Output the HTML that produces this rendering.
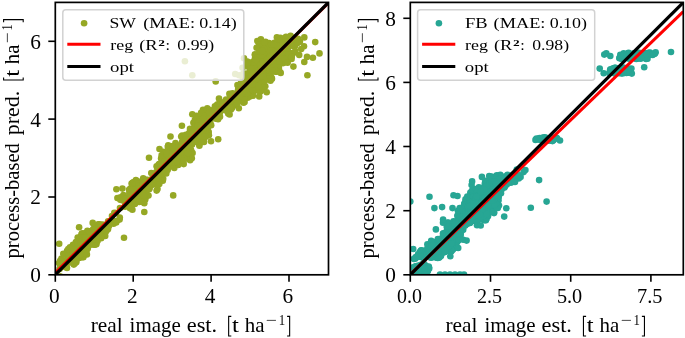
<!DOCTYPE html>
<html><head><meta charset="utf-8"><title>scatter</title>
<style>
html,body{margin:0;padding:0;background:#fff;}
body{width:685px;height:338px;overflow:hidden;}
svg{display:block;will-change:transform;}
text{font-family:"Liberation Serif",serif;fill:#000;}
</style></head><body>
<svg width="685" height="338" viewBox="0 0 685 338">
<rect width="685" height="338" fill="#fff"/>
<defs><clipPath id="c0"><rect x="55.3" y="2.4" width="273.2" height="272.4"/></clipPath></defs>
<g clip-path="url(#c0)">
<g fill="#96a825">
<circle cx="67.0" cy="268.0" r="3.3"/>
<circle cx="81.1" cy="244.2" r="3.3"/>
<circle cx="99.9" cy="230.8" r="3.3"/>
<circle cx="66.3" cy="260.0" r="3.3"/>
<circle cx="92.9" cy="242.7" r="3.3"/>
<circle cx="80.1" cy="248.8" r="3.3"/>
<circle cx="72.5" cy="260.9" r="3.3"/>
<circle cx="112.9" cy="222.4" r="3.3"/>
<circle cx="87.4" cy="230.9" r="3.3"/>
<circle cx="62.8" cy="266.2" r="3.3"/>
<circle cx="100.5" cy="226.6" r="3.3"/>
<circle cx="79.6" cy="241.8" r="3.3"/>
<circle cx="86.9" cy="254.5" r="3.3"/>
<circle cx="59.1" cy="263.0" r="3.3"/>
<circle cx="104.8" cy="226.2" r="3.3"/>
<circle cx="109.0" cy="225.9" r="3.3"/>
<circle cx="76.2" cy="256.6" r="3.3"/>
<circle cx="85.4" cy="233.0" r="3.3"/>
<circle cx="73.2" cy="263.3" r="3.3"/>
<circle cx="67.1" cy="250.8" r="3.3"/>
<circle cx="61.4" cy="264.7" r="3.3"/>
<circle cx="98.2" cy="224.2" r="3.3"/>
<circle cx="96.6" cy="228.3" r="3.3"/>
<circle cx="78.3" cy="251.8" r="3.3"/>
<circle cx="77.7" cy="237.6" r="3.3"/>
<circle cx="115.8" cy="221.6" r="3.3"/>
<circle cx="60.7" cy="260.8" r="3.3"/>
<circle cx="106.1" cy="230.3" r="3.3"/>
<circle cx="108.0" cy="229.3" r="3.3"/>
<circle cx="89.3" cy="231.4" r="3.3"/>
<circle cx="72.8" cy="250.6" r="3.3"/>
<circle cx="80.3" cy="257.0" r="3.3"/>
<circle cx="76.1" cy="260.7" r="3.3"/>
<circle cx="84.0" cy="246.6" r="3.3"/>
<circle cx="67.4" cy="260.7" r="3.3"/>
<circle cx="76.6" cy="251.9" r="3.3"/>
<circle cx="79.2" cy="257.9" r="3.3"/>
<circle cx="64.4" cy="265.1" r="3.3"/>
<circle cx="97.1" cy="241.0" r="3.3"/>
<circle cx="84.0" cy="245.2" r="3.3"/>
<circle cx="119.8" cy="217.6" r="3.3"/>
<circle cx="70.8" cy="255.8" r="3.3"/>
<circle cx="92.1" cy="231.5" r="3.3"/>
<circle cx="73.8" cy="264.6" r="3.3"/>
<circle cx="83.4" cy="257.2" r="3.3"/>
<circle cx="119.6" cy="219.6" r="3.3"/>
<circle cx="82.2" cy="257.3" r="3.3"/>
<circle cx="105.2" cy="235.9" r="3.3"/>
<circle cx="100.6" cy="236.4" r="3.3"/>
<circle cx="103.6" cy="233.6" r="3.3"/>
<circle cx="88.7" cy="234.0" r="3.3"/>
<circle cx="68.3" cy="249.0" r="3.3"/>
<circle cx="94.8" cy="244.7" r="3.3"/>
<circle cx="88.0" cy="245.0" r="3.3"/>
<circle cx="82.9" cy="237.9" r="3.3"/>
<circle cx="60.2" cy="260.7" r="3.3"/>
<circle cx="85.4" cy="235.8" r="3.3"/>
<circle cx="99.6" cy="224.3" r="3.3"/>
<circle cx="95.8" cy="228.0" r="3.3"/>
<circle cx="81.5" cy="234.3" r="3.3"/>
<circle cx="82.1" cy="233.2" r="3.3"/>
<circle cx="80.2" cy="252.5" r="3.3"/>
<circle cx="116.2" cy="222.4" r="3.3"/>
<circle cx="83.8" cy="254.3" r="3.3"/>
<circle cx="85.5" cy="244.4" r="3.3"/>
<circle cx="73.4" cy="256.3" r="3.3"/>
<circle cx="101.2" cy="238.2" r="3.3"/>
<circle cx="76.3" cy="262.3" r="3.3"/>
<circle cx="77.1" cy="248.5" r="3.3"/>
<circle cx="74.8" cy="253.8" r="3.3"/>
<circle cx="81.6" cy="255.9" r="3.3"/>
<circle cx="82.1" cy="234.6" r="3.3"/>
<circle cx="94.3" cy="242.6" r="3.3"/>
<circle cx="113.6" cy="223.8" r="3.3"/>
<circle cx="67.2" cy="262.6" r="3.3"/>
<circle cx="78.2" cy="251.7" r="3.3"/>
<circle cx="96.4" cy="244.3" r="3.3"/>
<circle cx="78.3" cy="243.8" r="3.3"/>
<circle cx="87.0" cy="242.2" r="3.3"/>
<circle cx="98.1" cy="228.1" r="3.3"/>
<circle cx="74.4" cy="261.8" r="3.3"/>
<circle cx="97.5" cy="241.0" r="3.3"/>
<circle cx="82.0" cy="245.6" r="3.3"/>
<circle cx="78.2" cy="247.9" r="3.3"/>
<circle cx="73.0" cy="244.7" r="3.3"/>
<circle cx="66.5" cy="266.2" r="3.3"/>
<circle cx="78.0" cy="250.7" r="3.3"/>
<circle cx="101.4" cy="232.7" r="3.3"/>
<circle cx="88.2" cy="241.8" r="3.3"/>
<circle cx="97.1" cy="230.6" r="3.3"/>
<circle cx="60.4" cy="265.8" r="3.3"/>
<circle cx="77.5" cy="243.6" r="3.3"/>
<circle cx="74.4" cy="249.1" r="3.3"/>
<circle cx="61.5" cy="258.5" r="3.3"/>
<circle cx="70.4" cy="260.1" r="3.3"/>
<circle cx="93.4" cy="240.3" r="3.3"/>
<circle cx="102.7" cy="224.6" r="3.3"/>
<circle cx="85.8" cy="249.7" r="3.3"/>
<circle cx="98.9" cy="235.8" r="3.3"/>
<circle cx="103.3" cy="226.6" r="3.3"/>
<circle cx="85.4" cy="235.8" r="3.3"/>
<circle cx="73.8" cy="254.2" r="3.3"/>
<circle cx="93.8" cy="244.5" r="3.3"/>
<circle cx="115.1" cy="221.5" r="3.3"/>
<circle cx="70.0" cy="247.3" r="3.3"/>
<circle cx="105.6" cy="231.5" r="3.3"/>
<circle cx="74.2" cy="255.1" r="3.3"/>
<circle cx="92.2" cy="234.9" r="3.3"/>
<circle cx="79.8" cy="255.7" r="3.3"/>
<circle cx="88.3" cy="238.3" r="3.3"/>
<circle cx="75.0" cy="254.8" r="3.3"/>
<circle cx="80.8" cy="256.7" r="3.3"/>
<circle cx="102.7" cy="227.2" r="3.3"/>
<circle cx="86.4" cy="251.2" r="3.3"/>
<circle cx="74.8" cy="263.1" r="3.3"/>
<circle cx="74.6" cy="263.4" r="3.3"/>
<circle cx="79.9" cy="237.6" r="3.3"/>
<circle cx="96.2" cy="237.3" r="3.3"/>
<circle cx="96.6" cy="239.9" r="3.3"/>
<circle cx="76.8" cy="258.9" r="3.3"/>
<circle cx="65.3" cy="267.0" r="3.3"/>
<circle cx="78.8" cy="248.3" r="3.3"/>
<circle cx="106.3" cy="231.1" r="3.3"/>
<circle cx="104.9" cy="228.4" r="3.3"/>
<circle cx="75.9" cy="242.0" r="3.3"/>
<circle cx="61.1" cy="260.7" r="3.3"/>
<circle cx="60.8" cy="265.3" r="3.3"/>
<circle cx="75.2" cy="246.2" r="3.3"/>
<circle cx="72.3" cy="252.9" r="3.3"/>
<circle cx="94.4" cy="244.4" r="3.3"/>
<circle cx="79.0" cy="251.7" r="3.3"/>
<circle cx="86.1" cy="240.8" r="3.3"/>
<circle cx="59.6" cy="269.1" r="3.3"/>
<circle cx="72.2" cy="249.9" r="3.3"/>
<circle cx="71.7" cy="249.1" r="3.3"/>
<circle cx="87.8" cy="248.5" r="3.3"/>
<circle cx="96.3" cy="238.7" r="3.3"/>
<circle cx="63.3" cy="253.8" r="3.3"/>
<circle cx="85.4" cy="250.1" r="3.3"/>
<circle cx="81.4" cy="245.7" r="3.3"/>
<circle cx="88.3" cy="245.4" r="3.3"/>
<circle cx="83.6" cy="237.5" r="3.3"/>
<circle cx="90.4" cy="244.7" r="3.3"/>
<circle cx="67.7" cy="256.9" r="3.3"/>
<circle cx="93.4" cy="232.8" r="3.3"/>
<circle cx="76.5" cy="256.9" r="3.3"/>
<circle cx="75.9" cy="254.9" r="3.3"/>
<circle cx="78.9" cy="248.0" r="3.3"/>
<circle cx="71.1" cy="255.5" r="3.3"/>
<circle cx="76.0" cy="250.5" r="3.3"/>
<circle cx="93.7" cy="234.9" r="3.3"/>
<circle cx="74.5" cy="257.0" r="3.3"/>
<circle cx="76.5" cy="249.6" r="3.3"/>
<circle cx="101.1" cy="236.3" r="3.3"/>
<circle cx="86.2" cy="235.5" r="3.3"/>
<circle cx="82.1" cy="254.8" r="3.3"/>
<circle cx="92.2" cy="231.2" r="3.3"/>
<circle cx="94.3" cy="239.0" r="3.3"/>
<circle cx="75.2" cy="248.6" r="3.3"/>
<circle cx="98.7" cy="237.4" r="3.3"/>
<circle cx="90.9" cy="241.9" r="3.3"/>
<circle cx="90.4" cy="231.4" r="3.3"/>
<circle cx="93.5" cy="241.8" r="3.3"/>
<circle cx="97.0" cy="228.6" r="3.3"/>
<circle cx="78.6" cy="251.9" r="3.3"/>
<circle cx="90.9" cy="244.2" r="3.3"/>
<circle cx="81.2" cy="250.6" r="3.3"/>
<circle cx="78.1" cy="247.8" r="3.3"/>
<circle cx="85.3" cy="242.9" r="3.3"/>
<circle cx="63.2" cy="263.9" r="3.3"/>
<circle cx="79.7" cy="242.0" r="3.3"/>
<circle cx="86.0" cy="237.1" r="3.3"/>
<circle cx="72.5" cy="261.1" r="3.3"/>
<circle cx="95.3" cy="232.2" r="3.3"/>
<circle cx="76.2" cy="256.5" r="3.3"/>
<circle cx="92.4" cy="237.1" r="3.3"/>
<circle cx="101.5" cy="228.4" r="3.3"/>
<circle cx="79.2" cy="246.6" r="3.3"/>
<circle cx="85.1" cy="251.4" r="3.3"/>
<circle cx="94.2" cy="228.3" r="3.3"/>
<circle cx="82.2" cy="255.7" r="3.3"/>
<circle cx="75.2" cy="255.1" r="3.3"/>
<circle cx="99.0" cy="232.4" r="3.3"/>
<circle cx="100.9" cy="237.1" r="3.3"/>
<circle cx="95.5" cy="239.6" r="3.3"/>
<circle cx="91.8" cy="237.7" r="3.3"/>
<circle cx="84.9" cy="251.2" r="3.3"/>
<circle cx="97.9" cy="231.4" r="3.3"/>
<circle cx="73.5" cy="257.5" r="3.3"/>
<circle cx="84.5" cy="240.0" r="3.3"/>
<circle cx="68.0" cy="255.1" r="3.3"/>
<circle cx="93.3" cy="233.3" r="3.3"/>
<circle cx="86.8" cy="236.0" r="3.3"/>
<circle cx="94.0" cy="239.1" r="3.3"/>
<circle cx="85.9" cy="236.3" r="3.3"/>
<circle cx="80.5" cy="256.1" r="3.3"/>
<circle cx="75.9" cy="258.1" r="3.3"/>
<circle cx="79.2" cy="255.6" r="3.3"/>
<circle cx="73.8" cy="259.9" r="3.3"/>
<circle cx="100.4" cy="231.3" r="3.3"/>
<circle cx="84.5" cy="237.3" r="3.3"/>
<circle cx="62.7" cy="265.0" r="3.3"/>
<circle cx="86.2" cy="239.7" r="3.3"/>
<circle cx="84.5" cy="237.7" r="3.3"/>
<circle cx="82.5" cy="249.7" r="3.3"/>
<circle cx="63.4" cy="265.5" r="3.3"/>
<circle cx="81.9" cy="242.5" r="3.3"/>
<circle cx="80.0" cy="255.1" r="3.3"/>
<circle cx="97.0" cy="230.4" r="3.3"/>
<circle cx="99.3" cy="232.9" r="3.3"/>
<circle cx="90.2" cy="232.7" r="3.3"/>
<circle cx="102.7" cy="228.1" r="3.3"/>
<circle cx="72.5" cy="260.9" r="3.3"/>
<circle cx="80.8" cy="254.5" r="3.3"/>
<circle cx="77.9" cy="253.0" r="3.3"/>
<circle cx="62.5" cy="263.5" r="3.3"/>
<circle cx="81.6" cy="243.6" r="3.3"/>
<circle cx="93.3" cy="236.9" r="3.3"/>
<circle cx="93.1" cy="229.3" r="3.3"/>
<circle cx="68.9" cy="256.0" r="3.3"/>
<circle cx="87.5" cy="241.7" r="3.3"/>
<circle cx="92.4" cy="232.2" r="3.3"/>
<circle cx="89.0" cy="239.4" r="3.3"/>
<circle cx="80.0" cy="245.5" r="3.3"/>
<circle cx="99.9" cy="228.0" r="3.3"/>
<circle cx="100.2" cy="229.8" r="3.3"/>
<circle cx="73.8" cy="253.7" r="3.3"/>
<circle cx="96.5" cy="236.5" r="3.3"/>
<circle cx="68.8" cy="261.6" r="3.3"/>
<circle cx="81.3" cy="252.4" r="3.3"/>
<circle cx="70.0" cy="262.2" r="3.3"/>
<circle cx="82.6" cy="252.5" r="3.3"/>
<circle cx="92.0" cy="232.6" r="3.3"/>
<circle cx="70.1" cy="252.6" r="3.3"/>
<circle cx="75.4" cy="257.0" r="3.3"/>
<circle cx="98.0" cy="229.7" r="3.3"/>
<circle cx="89.9" cy="242.6" r="3.3"/>
<circle cx="96.0" cy="235.6" r="3.3"/>
<circle cx="77.7" cy="243.6" r="3.3"/>
<circle cx="80.4" cy="242.7" r="3.3"/>
<circle cx="87.4" cy="243.1" r="3.3"/>
<circle cx="83.1" cy="250.4" r="3.3"/>
<circle cx="68.3" cy="255.9" r="3.3"/>
<circle cx="73.6" cy="250.1" r="3.3"/>
<circle cx="85.5" cy="237.7" r="3.3"/>
<circle cx="86.6" cy="242.7" r="3.3"/>
<circle cx="63.5" cy="264.2" r="3.3"/>
<circle cx="84.3" cy="253.0" r="3.3"/>
<circle cx="87.4" cy="245.7" r="3.3"/>
<circle cx="80.3" cy="254.6" r="3.3"/>
<circle cx="60.2" cy="276.3" r="3.3"/>
<circle cx="114.3" cy="212.8" r="3.3"/>
<circle cx="92.7" cy="222.9" r="3.3"/>
<circle cx="247.2" cy="63.9" r="3.3"/>
<circle cx="204.3" cy="124.5" r="3.3"/>
<circle cx="136.1" cy="190.8" r="3.3"/>
<circle cx="267.5" cy="74.2" r="3.3"/>
<circle cx="253.8" cy="91.5" r="3.3"/>
<circle cx="131.6" cy="183.5" r="3.3"/>
<circle cx="249.9" cy="96.4" r="3.3"/>
<circle cx="260.4" cy="73.2" r="3.3"/>
<circle cx="137.0" cy="193.0" r="3.3"/>
<circle cx="256.1" cy="86.0" r="3.3"/>
<circle cx="267.0" cy="48.0" r="3.3"/>
<circle cx="285.6" cy="38.3" r="3.3"/>
<circle cx="250.3" cy="75.7" r="3.3"/>
<circle cx="282.2" cy="62.6" r="3.3"/>
<circle cx="204.0" cy="142.0" r="3.3"/>
<circle cx="280.1" cy="47.2" r="3.3"/>
<circle cx="256.4" cy="87.6" r="3.3"/>
<circle cx="263.2" cy="50.9" r="3.3"/>
<circle cx="259.9" cy="52.6" r="3.3"/>
<circle cx="203.4" cy="135.6" r="3.3"/>
<circle cx="190.2" cy="155.7" r="3.3"/>
<circle cx="199.4" cy="145.8" r="3.3"/>
<circle cx="243.2" cy="79.9" r="3.3"/>
<circle cx="285.0" cy="39.4" r="3.3"/>
<circle cx="163.8" cy="156.5" r="3.3"/>
<circle cx="270.9" cy="56.0" r="3.3"/>
<circle cx="207.1" cy="113.9" r="3.3"/>
<circle cx="131.9" cy="205.1" r="3.3"/>
<circle cx="253.5" cy="76.1" r="3.3"/>
<circle cx="186.4" cy="150.1" r="3.3"/>
<circle cx="178.3" cy="161.0" r="3.3"/>
<circle cx="193.4" cy="122.8" r="3.3"/>
<circle cx="248.3" cy="91.6" r="3.3"/>
<circle cx="203.1" cy="130.5" r="3.3"/>
<circle cx="224.0" cy="110.0" r="3.3"/>
<circle cx="150.0" cy="181.4" r="3.3"/>
<circle cx="204.3" cy="116.3" r="3.3"/>
<circle cx="147.1" cy="179.7" r="3.3"/>
<circle cx="131.7" cy="194.5" r="3.3"/>
<circle cx="265.7" cy="71.0" r="3.3"/>
<circle cx="260.6" cy="91.2" r="3.3"/>
<circle cx="202.4" cy="117.2" r="3.3"/>
<circle cx="247.1" cy="93.8" r="3.3"/>
<circle cx="259.7" cy="87.5" r="3.3"/>
<circle cx="198.8" cy="134.9" r="3.3"/>
<circle cx="231.0" cy="109.4" r="3.3"/>
<circle cx="246.6" cy="82.8" r="3.3"/>
<circle cx="174.3" cy="167.9" r="3.3"/>
<circle cx="292.0" cy="53.3" r="3.3"/>
<circle cx="260.9" cy="39.4" r="3.3"/>
<circle cx="202.1" cy="112.9" r="3.3"/>
<circle cx="239.1" cy="94.2" r="3.3"/>
<circle cx="160.1" cy="173.9" r="3.3"/>
<circle cx="291.7" cy="56.2" r="3.3"/>
<circle cx="161.1" cy="158.5" r="3.3"/>
<circle cx="196.0" cy="132.8" r="3.3"/>
<circle cx="264.7" cy="70.0" r="3.3"/>
<circle cx="244.9" cy="98.4" r="3.3"/>
<circle cx="177.4" cy="162.3" r="3.3"/>
<circle cx="265.9" cy="69.4" r="3.3"/>
<circle cx="123.4" cy="195.1" r="3.3"/>
<circle cx="207.8" cy="119.0" r="3.3"/>
<circle cx="277.5" cy="50.7" r="3.3"/>
<circle cx="167.6" cy="169.9" r="3.3"/>
<circle cx="232.3" cy="99.8" r="3.3"/>
<circle cx="185.6" cy="140.4" r="3.3"/>
<circle cx="158.0" cy="184.1" r="3.3"/>
<circle cx="140.0" cy="182.5" r="3.3"/>
<circle cx="294.5" cy="46.5" r="3.3"/>
<circle cx="242.8" cy="78.0" r="3.3"/>
<circle cx="264.2" cy="47.7" r="3.3"/>
<circle cx="142.7" cy="190.5" r="3.3"/>
<circle cx="162.2" cy="178.6" r="3.3"/>
<circle cx="164.4" cy="159.5" r="3.3"/>
<circle cx="245.2" cy="85.4" r="3.3"/>
<circle cx="277.4" cy="44.8" r="3.3"/>
<circle cx="295.4" cy="44.0" r="3.3"/>
<circle cx="143.5" cy="181.1" r="3.3"/>
<circle cx="273.5" cy="55.1" r="3.3"/>
<circle cx="204.4" cy="124.4" r="3.3"/>
<circle cx="254.7" cy="79.6" r="3.3"/>
<circle cx="188.0" cy="153.8" r="3.3"/>
<circle cx="288.4" cy="45.3" r="3.3"/>
<circle cx="199.3" cy="144.6" r="3.3"/>
<circle cx="259.7" cy="82.9" r="3.3"/>
<circle cx="205.7" cy="132.9" r="3.3"/>
<circle cx="286.3" cy="45.0" r="3.3"/>
<circle cx="180.4" cy="159.5" r="3.3"/>
<circle cx="210.3" cy="122.9" r="3.3"/>
<circle cx="127.9" cy="202.7" r="3.3"/>
<circle cx="270.3" cy="58.8" r="3.3"/>
<circle cx="259.2" cy="50.6" r="3.3"/>
<circle cx="200.8" cy="142.1" r="3.3"/>
<circle cx="249.3" cy="89.6" r="3.3"/>
<circle cx="177.1" cy="150.1" r="3.3"/>
<circle cx="194.9" cy="119.8" r="3.3"/>
<circle cx="264.6" cy="53.5" r="3.3"/>
<circle cx="228.2" cy="113.5" r="3.3"/>
<circle cx="208.7" cy="132.0" r="3.3"/>
<circle cx="162.9" cy="169.3" r="3.3"/>
<circle cx="228.6" cy="111.6" r="3.3"/>
<circle cx="283.4" cy="63.1" r="3.3"/>
<circle cx="224.3" cy="104.4" r="3.3"/>
<circle cx="208.0" cy="133.3" r="3.3"/>
<circle cx="289.3" cy="40.6" r="3.3"/>
<circle cx="227.6" cy="103.4" r="3.3"/>
<circle cx="279.6" cy="39.5" r="3.3"/>
<circle cx="285.7" cy="37.9" r="3.3"/>
<circle cx="285.3" cy="57.0" r="3.3"/>
<circle cx="294.9" cy="38.5" r="3.3"/>
<circle cx="298.1" cy="38.7" r="3.3"/>
<circle cx="133.3" cy="196.3" r="3.3"/>
<circle cx="203.0" cy="109.8" r="3.3"/>
<circle cx="260.8" cy="67.3" r="3.3"/>
<circle cx="131.6" cy="195.1" r="3.3"/>
<circle cx="189.0" cy="133.4" r="3.3"/>
<circle cx="260.0" cy="67.5" r="3.3"/>
<circle cx="259.2" cy="91.0" r="3.3"/>
<circle cx="228.5" cy="101.8" r="3.3"/>
<circle cx="131.8" cy="194.2" r="3.3"/>
<circle cx="168.2" cy="145.2" r="3.3"/>
<circle cx="161.1" cy="171.7" r="3.3"/>
<circle cx="171.5" cy="161.4" r="3.3"/>
<circle cx="238.2" cy="86.6" r="3.3"/>
<circle cx="125.1" cy="206.8" r="3.3"/>
<circle cx="243.8" cy="79.0" r="3.3"/>
<circle cx="275.8" cy="51.9" r="3.3"/>
<circle cx="194.4" cy="127.4" r="3.3"/>
<circle cx="143.2" cy="178.4" r="3.3"/>
<circle cx="241.1" cy="93.6" r="3.3"/>
<circle cx="236.4" cy="105.2" r="3.3"/>
<circle cx="202.3" cy="131.6" r="3.3"/>
<circle cx="193.3" cy="132.3" r="3.3"/>
<circle cx="279.0" cy="69.6" r="3.3"/>
<circle cx="191.0" cy="157.0" r="3.3"/>
<circle cx="250.7" cy="79.2" r="3.3"/>
<circle cx="224.0" cy="103.9" r="3.3"/>
<circle cx="195.8" cy="131.2" r="3.3"/>
<circle cx="291.4" cy="53.5" r="3.3"/>
<circle cx="186.0" cy="152.1" r="3.3"/>
<circle cx="125.1" cy="205.6" r="3.3"/>
<circle cx="224.4" cy="106.2" r="3.3"/>
<circle cx="287.6" cy="56.4" r="3.3"/>
<circle cx="162.8" cy="180.7" r="3.3"/>
<circle cx="208.5" cy="123.8" r="3.3"/>
<circle cx="185.6" cy="149.2" r="3.3"/>
<circle cx="280.4" cy="37.8" r="3.3"/>
<circle cx="135.6" cy="195.8" r="3.3"/>
<circle cx="155.6" cy="175.1" r="3.3"/>
<circle cx="235.5" cy="93.7" r="3.3"/>
<circle cx="152.3" cy="178.5" r="3.3"/>
<circle cx="287.5" cy="50.6" r="3.3"/>
<circle cx="190.1" cy="160.3" r="3.3"/>
<circle cx="255.0" cy="54.4" r="3.3"/>
<circle cx="238.8" cy="108.3" r="3.3"/>
<circle cx="269.7" cy="68.3" r="3.3"/>
<circle cx="269.7" cy="63.0" r="3.3"/>
<circle cx="203.3" cy="135.1" r="3.3"/>
<circle cx="205.3" cy="110.3" r="3.3"/>
<circle cx="158.1" cy="175.9" r="3.3"/>
<circle cx="292.9" cy="53.4" r="3.3"/>
<circle cx="168.9" cy="155.8" r="3.3"/>
<circle cx="259.1" cy="68.7" r="3.3"/>
<circle cx="249.7" cy="85.8" r="3.3"/>
<circle cx="191.8" cy="158.2" r="3.3"/>
<circle cx="229.6" cy="114.5" r="3.3"/>
<circle cx="205.6" cy="127.4" r="3.3"/>
<circle cx="195.3" cy="133.8" r="3.3"/>
<circle cx="166.9" cy="167.3" r="3.3"/>
<circle cx="269.3" cy="48.5" r="3.3"/>
<circle cx="286.0" cy="50.1" r="3.3"/>
<circle cx="135.9" cy="180.0" r="3.3"/>
<circle cx="287.5" cy="56.9" r="3.3"/>
<circle cx="167.8" cy="146.8" r="3.3"/>
<circle cx="248.8" cy="80.8" r="3.3"/>
<circle cx="219.5" cy="105.9" r="3.3"/>
<circle cx="232.8" cy="105.8" r="3.3"/>
<circle cx="214.9" cy="106.4" r="3.3"/>
<circle cx="170.8" cy="165.4" r="3.3"/>
<circle cx="268.8" cy="78.0" r="3.3"/>
<circle cx="168.4" cy="166.3" r="3.3"/>
<circle cx="276.9" cy="37.4" r="3.3"/>
<circle cx="172.9" cy="150.1" r="3.3"/>
<circle cx="217.1" cy="116.7" r="3.3"/>
<circle cx="120.3" cy="199.8" r="3.3"/>
<circle cx="187.7" cy="141.8" r="3.3"/>
<circle cx="130.9" cy="199.0" r="3.3"/>
<circle cx="194.7" cy="122.8" r="3.3"/>
<circle cx="137.4" cy="183.8" r="3.3"/>
<circle cx="177.5" cy="161.4" r="3.3"/>
<circle cx="232.9" cy="104.5" r="3.3"/>
<circle cx="235.7" cy="96.6" r="3.3"/>
<circle cx="236.3" cy="103.1" r="3.3"/>
<circle cx="167.6" cy="169.1" r="3.3"/>
<circle cx="168.2" cy="161.0" r="3.3"/>
<circle cx="232.9" cy="96.3" r="3.3"/>
<circle cx="163.2" cy="178.8" r="3.3"/>
<circle cx="209.2" cy="117.7" r="3.3"/>
<circle cx="211.2" cy="125.2" r="3.3"/>
<circle cx="215.6" cy="113.7" r="3.3"/>
<circle cx="273.2" cy="64.7" r="3.3"/>
<circle cx="204.9" cy="110.4" r="3.3"/>
<circle cx="269.1" cy="43.0" r="3.3"/>
<circle cx="269.6" cy="58.1" r="3.3"/>
<circle cx="291.2" cy="57.1" r="3.3"/>
<circle cx="294.6" cy="45.2" r="3.3"/>
<circle cx="156.6" cy="166.3" r="3.3"/>
<circle cx="245.1" cy="79.2" r="3.3"/>
<circle cx="207.0" cy="128.3" r="3.3"/>
<circle cx="132.4" cy="209.8" r="3.3"/>
<circle cx="161.6" cy="155.4" r="3.3"/>
<circle cx="226.1" cy="99.5" r="3.3"/>
<circle cx="246.0" cy="89.9" r="3.3"/>
<circle cx="143.2" cy="195.1" r="3.3"/>
<circle cx="263.8" cy="79.6" r="3.3"/>
<circle cx="138.5" cy="189.0" r="3.3"/>
<circle cx="278.9" cy="55.9" r="3.3"/>
<circle cx="169.5" cy="149.0" r="3.3"/>
<circle cx="250.4" cy="62.6" r="3.3"/>
<circle cx="189.8" cy="158.9" r="3.3"/>
<circle cx="164.3" cy="152.4" r="3.3"/>
<circle cx="204.8" cy="126.8" r="3.3"/>
<circle cx="275.7" cy="71.7" r="3.3"/>
<circle cx="276.9" cy="55.1" r="3.3"/>
<circle cx="173.0" cy="164.8" r="3.3"/>
<circle cx="243.5" cy="102.7" r="3.3"/>
<circle cx="268.7" cy="53.5" r="3.3"/>
<circle cx="195.7" cy="123.3" r="3.3"/>
<circle cx="187.5" cy="147.3" r="3.3"/>
<circle cx="254.8" cy="74.1" r="3.3"/>
<circle cx="188.3" cy="141.4" r="3.3"/>
<circle cx="265.3" cy="54.5" r="3.3"/>
<circle cx="258.8" cy="85.2" r="3.3"/>
<circle cx="199.7" cy="124.7" r="3.3"/>
<circle cx="248.2" cy="94.1" r="3.3"/>
<circle cx="190.5" cy="157.9" r="3.3"/>
<circle cx="261.7" cy="87.7" r="3.3"/>
<circle cx="265.3" cy="86.2" r="3.3"/>
<circle cx="264.5" cy="78.2" r="3.3"/>
<circle cx="261.6" cy="46.4" r="3.3"/>
<circle cx="157.3" cy="167.6" r="3.3"/>
<circle cx="268.5" cy="70.3" r="3.3"/>
<circle cx="263.2" cy="49.8" r="3.3"/>
<circle cx="191.6" cy="137.8" r="3.3"/>
<circle cx="197.4" cy="125.4" r="3.3"/>
<circle cx="154.7" cy="177.4" r="3.3"/>
<circle cx="287.6" cy="61.9" r="3.3"/>
<circle cx="241.5" cy="101.0" r="3.3"/>
<circle cx="199.6" cy="118.7" r="3.3"/>
<circle cx="185.5" cy="144.9" r="3.3"/>
<circle cx="207.9" cy="127.7" r="3.3"/>
<circle cx="207.2" cy="133.3" r="3.3"/>
<circle cx="289.1" cy="44.3" r="3.3"/>
<circle cx="253.1" cy="74.8" r="3.3"/>
<circle cx="241.6" cy="85.6" r="3.3"/>
<circle cx="255.6" cy="64.3" r="3.3"/>
<circle cx="272.3" cy="69.7" r="3.3"/>
<circle cx="131.4" cy="196.7" r="3.3"/>
<circle cx="194.8" cy="126.1" r="3.3"/>
<circle cx="174.7" cy="159.2" r="3.3"/>
<circle cx="247.3" cy="64.6" r="3.3"/>
<circle cx="291.3" cy="45.1" r="3.3"/>
<circle cx="139.9" cy="189.1" r="3.3"/>
<circle cx="148.5" cy="180.6" r="3.3"/>
<circle cx="209.9" cy="117.8" r="3.3"/>
<circle cx="207.3" cy="108.4" r="3.3"/>
<circle cx="253.0" cy="95.7" r="3.3"/>
<circle cx="240.7" cy="88.2" r="3.3"/>
<circle cx="191.2" cy="150.5" r="3.3"/>
<circle cx="166.2" cy="160.7" r="3.3"/>
<circle cx="265.3" cy="48.9" r="3.3"/>
<circle cx="156.8" cy="174.7" r="3.3"/>
<circle cx="265.5" cy="41.9" r="3.3"/>
<circle cx="182.2" cy="135.5" r="3.3"/>
<circle cx="146.3" cy="183.8" r="3.3"/>
<circle cx="183.7" cy="149.3" r="3.3"/>
<circle cx="184.9" cy="144.2" r="3.3"/>
<circle cx="133.0" cy="187.4" r="3.3"/>
<circle cx="283.5" cy="48.8" r="3.3"/>
<circle cx="259.9" cy="65.9" r="3.3"/>
<circle cx="198.6" cy="125.1" r="3.3"/>
<circle cx="158.6" cy="167.4" r="3.3"/>
<circle cx="183.7" cy="164.1" r="3.3"/>
<circle cx="285.8" cy="49.4" r="3.3"/>
<circle cx="211.7" cy="113.6" r="3.3"/>
<circle cx="176.4" cy="162.7" r="3.3"/>
<circle cx="288.5" cy="40.5" r="3.3"/>
<circle cx="232.5" cy="93.3" r="3.3"/>
<circle cx="180.5" cy="150.6" r="3.3"/>
<circle cx="188.6" cy="147.9" r="3.3"/>
<circle cx="226.2" cy="110.6" r="3.3"/>
<circle cx="227.3" cy="101.2" r="3.3"/>
<circle cx="184.0" cy="151.6" r="3.3"/>
<circle cx="134.3" cy="197.7" r="3.3"/>
<circle cx="238.1" cy="89.8" r="3.3"/>
<circle cx="294.8" cy="45.8" r="3.3"/>
<circle cx="253.2" cy="62.1" r="3.3"/>
<circle cx="156.9" cy="183.8" r="3.3"/>
<circle cx="211.7" cy="117.1" r="3.3"/>
<circle cx="188.9" cy="134.9" r="3.3"/>
<circle cx="136.8" cy="187.1" r="3.3"/>
<circle cx="257.3" cy="58.7" r="3.3"/>
<circle cx="171.5" cy="151.3" r="3.3"/>
<circle cx="143.1" cy="201.0" r="3.3"/>
<circle cx="137.6" cy="181.4" r="3.3"/>
<circle cx="171.5" cy="164.4" r="3.3"/>
<circle cx="229.9" cy="98.6" r="3.3"/>
<circle cx="217.2" cy="116.0" r="3.3"/>
<circle cx="261.9" cy="55.5" r="3.3"/>
<circle cx="162.2" cy="169.8" r="3.3"/>
<circle cx="179.4" cy="159.3" r="3.3"/>
<circle cx="167.6" cy="152.9" r="3.3"/>
<circle cx="285.8" cy="50.7" r="3.3"/>
<circle cx="186.6" cy="137.9" r="3.3"/>
<circle cx="242.5" cy="88.2" r="3.3"/>
<circle cx="145.4" cy="182.2" r="3.3"/>
<circle cx="290.6" cy="35.8" r="3.3"/>
<circle cx="284.0" cy="44.2" r="3.3"/>
<circle cx="209.1" cy="118.0" r="3.3"/>
<circle cx="192.0" cy="141.0" r="3.3"/>
<circle cx="275.6" cy="66.0" r="3.3"/>
<circle cx="219.6" cy="116.1" r="3.3"/>
<circle cx="259.6" cy="41.1" r="3.3"/>
<circle cx="231.6" cy="101.6" r="3.3"/>
<circle cx="145.7" cy="189.1" r="3.3"/>
<circle cx="180.8" cy="157.2" r="3.3"/>
<circle cx="231.0" cy="95.9" r="3.3"/>
<circle cx="263.4" cy="68.7" r="3.3"/>
<circle cx="153.8" cy="183.9" r="3.3"/>
<circle cx="192.6" cy="153.0" r="3.3"/>
<circle cx="159.8" cy="178.6" r="3.3"/>
<circle cx="262.5" cy="57.9" r="3.3"/>
<circle cx="235.1" cy="98.5" r="3.3"/>
<circle cx="191.0" cy="153.0" r="3.3"/>
<circle cx="192.5" cy="142.9" r="3.3"/>
<circle cx="286.0" cy="36.9" r="3.3"/>
<circle cx="223.1" cy="108.4" r="3.3"/>
<circle cx="279.2" cy="50.4" r="3.3"/>
<circle cx="257.3" cy="41.0" r="3.3"/>
<circle cx="135.0" cy="183.1" r="3.3"/>
<circle cx="297.4" cy="41.3" r="3.3"/>
<circle cx="168.1" cy="162.4" r="3.3"/>
<circle cx="262.2" cy="79.1" r="3.3"/>
<circle cx="197.4" cy="120.4" r="3.3"/>
<circle cx="172.7" cy="146.1" r="3.3"/>
<circle cx="259.0" cy="72.0" r="3.3"/>
<circle cx="278.7" cy="40.8" r="3.3"/>
<circle cx="271.3" cy="69.2" r="3.3"/>
<circle cx="258.5" cy="89.6" r="3.3"/>
<circle cx="210.0" cy="110.1" r="3.3"/>
<circle cx="163.4" cy="151.7" r="3.3"/>
<circle cx="133.0" cy="182.9" r="3.3"/>
<circle cx="160.5" cy="170.7" r="3.3"/>
<circle cx="292.6" cy="43.5" r="3.3"/>
<circle cx="166.3" cy="173.5" r="3.3"/>
<circle cx="191.0" cy="140.6" r="3.3"/>
<circle cx="263.2" cy="82.4" r="3.3"/>
<circle cx="258.4" cy="83.8" r="3.3"/>
<circle cx="192.5" cy="136.9" r="3.3"/>
<circle cx="181.1" cy="159.8" r="3.3"/>
<circle cx="176.8" cy="157.3" r="3.3"/>
<circle cx="202.7" cy="125.3" r="3.3"/>
<circle cx="181.0" cy="146.0" r="3.3"/>
<circle cx="266.5" cy="64.2" r="3.3"/>
<circle cx="204.6" cy="137.9" r="3.3"/>
<circle cx="259.1" cy="65.1" r="3.3"/>
<circle cx="248.0" cy="66.4" r="3.3"/>
<circle cx="133.4" cy="198.0" r="3.3"/>
<circle cx="140.6" cy="196.8" r="3.3"/>
<circle cx="180.2" cy="151.4" r="3.3"/>
<circle cx="141.4" cy="196.6" r="3.3"/>
<circle cx="131.1" cy="189.7" r="3.3"/>
<circle cx="140.7" cy="182.8" r="3.3"/>
<circle cx="272.0" cy="78.8" r="3.3"/>
<circle cx="146.7" cy="180.0" r="3.3"/>
<circle cx="124.1" cy="200.7" r="3.3"/>
<circle cx="257.9" cy="65.3" r="3.3"/>
<circle cx="205.8" cy="112.1" r="3.3"/>
<circle cx="208.9" cy="135.2" r="3.3"/>
<circle cx="272.0" cy="67.4" r="3.3"/>
<circle cx="150.2" cy="181.7" r="3.3"/>
<circle cx="236.9" cy="102.2" r="3.3"/>
<circle cx="154.5" cy="174.7" r="3.3"/>
<circle cx="223.2" cy="106.1" r="3.3"/>
<circle cx="270.5" cy="80.7" r="3.3"/>
<circle cx="241.7" cy="94.3" r="3.3"/>
<circle cx="131.5" cy="194.1" r="3.3"/>
<circle cx="129.2" cy="200.8" r="3.3"/>
<circle cx="194.6" cy="130.8" r="3.3"/>
<circle cx="207.7" cy="116.3" r="3.3"/>
<circle cx="269.7" cy="64.8" r="3.3"/>
<circle cx="202.4" cy="139.2" r="3.3"/>
<circle cx="200.7" cy="135.4" r="3.3"/>
<circle cx="206.5" cy="135.9" r="3.3"/>
<circle cx="145.3" cy="199.6" r="3.3"/>
<circle cx="196.5" cy="115.9" r="3.3"/>
<circle cx="247.3" cy="61.6" r="3.3"/>
<circle cx="247.2" cy="81.5" r="3.3"/>
<circle cx="149.6" cy="186.6" r="3.3"/>
<circle cx="142.6" cy="184.8" r="3.3"/>
<circle cx="167.2" cy="163.8" r="3.3"/>
<circle cx="290.8" cy="43.1" r="3.3"/>
<circle cx="175.7" cy="155.5" r="3.3"/>
<circle cx="148.5" cy="195.6" r="3.3"/>
<circle cx="157.9" cy="170.1" r="3.3"/>
<circle cx="200.5" cy="119.8" r="3.3"/>
<circle cx="170.4" cy="160.6" r="3.3"/>
<circle cx="191.6" cy="135.0" r="3.3"/>
<circle cx="252.8" cy="81.9" r="3.3"/>
<circle cx="268.7" cy="74.5" r="3.3"/>
<circle cx="192.0" cy="140.0" r="3.3"/>
<circle cx="132.9" cy="182.5" r="3.3"/>
<circle cx="199.1" cy="138.7" r="3.3"/>
<circle cx="130.0" cy="208.3" r="3.3"/>
<circle cx="269.4" cy="78.1" r="3.3"/>
<circle cx="299.9" cy="41.8" r="3.3"/>
<circle cx="247.7" cy="97.7" r="3.3"/>
<circle cx="237.5" cy="85.0" r="3.3"/>
<circle cx="244.6" cy="102.0" r="3.3"/>
<circle cx="193.1" cy="132.9" r="3.3"/>
<circle cx="291.3" cy="54.8" r="3.3"/>
<circle cx="132.3" cy="202.8" r="3.3"/>
<circle cx="263.4" cy="47.0" r="3.3"/>
<circle cx="247.5" cy="63.2" r="3.3"/>
<circle cx="211.6" cy="112.5" r="3.3"/>
<circle cx="192.1" cy="144.5" r="3.3"/>
<circle cx="197.8" cy="139.4" r="3.3"/>
<circle cx="291.6" cy="59.0" r="3.3"/>
<circle cx="238.8" cy="98.5" r="3.3"/>
<circle cx="241.1" cy="83.1" r="3.3"/>
<circle cx="261.0" cy="59.6" r="3.3"/>
<circle cx="220.0" cy="116.8" r="3.3"/>
<circle cx="130.4" cy="188.5" r="3.3"/>
<circle cx="139.6" cy="193.9" r="3.3"/>
<circle cx="175.5" cy="143.1" r="3.3"/>
<circle cx="174.6" cy="148.1" r="3.3"/>
<circle cx="133.0" cy="196.3" r="3.3"/>
<circle cx="243.2" cy="73.9" r="3.3"/>
<circle cx="220.2" cy="102.8" r="3.3"/>
<circle cx="242.7" cy="97.4" r="3.3"/>
<circle cx="141.7" cy="201.8" r="3.3"/>
<circle cx="188.5" cy="157.0" r="3.3"/>
<circle cx="260.5" cy="73.4" r="3.3"/>
<circle cx="276.4" cy="71.7" r="3.3"/>
<circle cx="201.1" cy="112.9" r="3.3"/>
<circle cx="267.5" cy="76.6" r="3.3"/>
<circle cx="166.2" cy="160.3" r="3.3"/>
<circle cx="122.1" cy="200.2" r="3.3"/>
<circle cx="269.1" cy="67.6" r="3.3"/>
<circle cx="256.8" cy="81.7" r="3.3"/>
<circle cx="156.1" cy="172.4" r="3.3"/>
<circle cx="202.7" cy="137.3" r="3.3"/>
<circle cx="262.6" cy="53.7" r="3.3"/>
<circle cx="278.7" cy="54.9" r="3.3"/>
<circle cx="251.2" cy="80.9" r="3.3"/>
<circle cx="159.4" cy="164.5" r="3.3"/>
<circle cx="288.7" cy="41.5" r="3.3"/>
<circle cx="256.6" cy="61.0" r="3.3"/>
<circle cx="215.9" cy="118.8" r="3.3"/>
<circle cx="203.8" cy="137.5" r="3.3"/>
<circle cx="177.0" cy="153.5" r="3.3"/>
<circle cx="271.0" cy="76.3" r="3.3"/>
<circle cx="217.2" cy="104.6" r="3.3"/>
<circle cx="254.7" cy="59.4" r="3.3"/>
<circle cx="258.3" cy="75.9" r="3.3"/>
<circle cx="241.3" cy="83.4" r="3.3"/>
<circle cx="284.6" cy="57.7" r="3.3"/>
<circle cx="173.9" cy="152.4" r="3.3"/>
<circle cx="144.8" cy="199.3" r="3.3"/>
<circle cx="253.5" cy="90.3" r="3.3"/>
<circle cx="260.8" cy="71.3" r="3.3"/>
<circle cx="259.2" cy="44.7" r="3.3"/>
<circle cx="269.1" cy="54.3" r="3.3"/>
<circle cx="159.3" cy="184.0" r="3.3"/>
<circle cx="233.2" cy="100.9" r="3.3"/>
<circle cx="143.4" cy="186.5" r="3.3"/>
<circle cx="255.1" cy="84.8" r="3.3"/>
<circle cx="120.5" cy="197.3" r="3.3"/>
<circle cx="178.7" cy="149.3" r="3.3"/>
<circle cx="268.2" cy="64.0" r="3.3"/>
<circle cx="279.2" cy="65.8" r="3.3"/>
<circle cx="129.5" cy="194.2" r="3.3"/>
<circle cx="198.8" cy="123.6" r="3.3"/>
<circle cx="246.4" cy="73.6" r="3.3"/>
<circle cx="255.9" cy="62.1" r="3.3"/>
<circle cx="273.7" cy="62.1" r="3.3"/>
<circle cx="295.1" cy="45.0" r="3.3"/>
<circle cx="182.3" cy="148.9" r="3.3"/>
<circle cx="159.8" cy="163.8" r="3.3"/>
<circle cx="285.7" cy="52.4" r="3.3"/>
<circle cx="218.1" cy="119.2" r="3.3"/>
<circle cx="197.5" cy="130.0" r="3.3"/>
<circle cx="259.0" cy="44.9" r="3.3"/>
<circle cx="292.2" cy="37.9" r="3.3"/>
<circle cx="215.6" cy="112.8" r="3.3"/>
<circle cx="255.0" cy="78.0" r="3.3"/>
<circle cx="226.3" cy="101.5" r="3.3"/>
<circle cx="158.8" cy="164.2" r="3.3"/>
<circle cx="242.6" cy="96.7" r="3.3"/>
<circle cx="160.3" cy="163.9" r="3.3"/>
<circle cx="271.7" cy="62.9" r="3.3"/>
<circle cx="186.6" cy="148.9" r="3.3"/>
<circle cx="135.5" cy="194.8" r="3.3"/>
<circle cx="280.1" cy="58.9" r="3.3"/>
<circle cx="259.6" cy="58.8" r="3.3"/>
<circle cx="254.9" cy="55.1" r="3.3"/>
<circle cx="190.0" cy="128.9" r="3.3"/>
<circle cx="173.8" cy="165.6" r="3.3"/>
<circle cx="242.4" cy="86.7" r="3.3"/>
<circle cx="181.2" cy="136.5" r="3.3"/>
<circle cx="207.5" cy="125.9" r="3.3"/>
<circle cx="217.5" cy="116.2" r="3.3"/>
<circle cx="296.9" cy="40.6" r="3.3"/>
<circle cx="257.4" cy="85.3" r="3.3"/>
<circle cx="137.5" cy="190.6" r="3.3"/>
<circle cx="256.2" cy="55.3" r="3.3"/>
<circle cx="264.5" cy="53.0" r="3.3"/>
<circle cx="239.3" cy="90.7" r="3.3"/>
<circle cx="165.2" cy="161.0" r="3.3"/>
<circle cx="219.7" cy="102.4" r="3.3"/>
<circle cx="144.3" cy="203.2" r="3.3"/>
<circle cx="141.6" cy="200.5" r="3.3"/>
<circle cx="293.1" cy="42.6" r="3.3"/>
<circle cx="133.4" cy="182.6" r="3.3"/>
<circle cx="250.8" cy="91.3" r="3.3"/>
<circle cx="274.4" cy="42.8" r="3.3"/>
<circle cx="288.7" cy="44.5" r="3.3"/>
<circle cx="243.9" cy="99.9" r="3.3"/>
<circle cx="240.5" cy="99.7" r="3.3"/>
<circle cx="267.0" cy="49.1" r="3.3"/>
<circle cx="188.6" cy="147.8" r="3.3"/>
<circle cx="185.9" cy="134.7" r="3.3"/>
<circle cx="209.7" cy="121.3" r="3.3"/>
<circle cx="194.9" cy="127.9" r="3.3"/>
<circle cx="169.4" cy="161.8" r="3.3"/>
<circle cx="223.3" cy="102.2" r="3.3"/>
<circle cx="260.3" cy="91.6" r="3.3"/>
<circle cx="262.2" cy="51.7" r="3.3"/>
<circle cx="129.1" cy="189.7" r="3.3"/>
<circle cx="242.0" cy="93.8" r="3.3"/>
<circle cx="149.1" cy="186.0" r="3.3"/>
<circle cx="258.4" cy="65.3" r="3.3"/>
<circle cx="149.0" cy="182.2" r="3.3"/>
<circle cx="271.6" cy="78.3" r="3.3"/>
<circle cx="139.3" cy="190.9" r="3.3"/>
<circle cx="258.8" cy="90.1" r="3.3"/>
<circle cx="251.1" cy="84.9" r="3.3"/>
<circle cx="294.5" cy="40.9" r="3.3"/>
<circle cx="178.8" cy="161.0" r="3.3"/>
<circle cx="181.1" cy="156.2" r="3.3"/>
<circle cx="179.8" cy="149.2" r="3.3"/>
<circle cx="256.6" cy="47.7" r="3.3"/>
<circle cx="149.4" cy="181.4" r="3.3"/>
<circle cx="263.4" cy="89.5" r="3.3"/>
<circle cx="144.7" cy="191.8" r="3.3"/>
<circle cx="289.5" cy="52.6" r="3.3"/>
<circle cx="257.3" cy="57.5" r="3.3"/>
<circle cx="260.0" cy="67.2" r="3.3"/>
<circle cx="178.2" cy="164.9" r="3.3"/>
<circle cx="202.4" cy="141.5" r="3.3"/>
<circle cx="281.7" cy="58.6" r="3.3"/>
<circle cx="161.2" cy="174.6" r="3.3"/>
<circle cx="256.8" cy="61.3" r="3.3"/>
<circle cx="143.2" cy="190.6" r="3.3"/>
<circle cx="267.1" cy="64.1" r="3.3"/>
<circle cx="124.9" cy="198.9" r="3.3"/>
<circle cx="247.8" cy="92.9" r="3.3"/>
<circle cx="268.4" cy="57.6" r="3.3"/>
<circle cx="182.2" cy="141.5" r="3.3"/>
<circle cx="271.4" cy="71.6" r="3.3"/>
<circle cx="262.5" cy="72.5" r="3.3"/>
<circle cx="133.5" cy="192.5" r="3.3"/>
<circle cx="129.4" cy="197.5" r="3.3"/>
<circle cx="138.8" cy="197.8" r="3.3"/>
<circle cx="156.4" cy="176.4" r="3.3"/>
<circle cx="277.1" cy="53.4" r="3.3"/>
<circle cx="248.1" cy="78.7" r="3.3"/>
<circle cx="182.6" cy="142.3" r="3.3"/>
<circle cx="233.9" cy="103.3" r="3.3"/>
<circle cx="238.0" cy="93.2" r="3.3"/>
<circle cx="274.5" cy="69.2" r="3.3"/>
<circle cx="173.6" cy="150.7" r="3.3"/>
<circle cx="133.9" cy="195.3" r="3.3"/>
<circle cx="224.5" cy="107.7" r="3.3"/>
<circle cx="131.7" cy="196.5" r="3.3"/>
<circle cx="265.0" cy="44.2" r="3.3"/>
<circle cx="277.7" cy="52.2" r="3.3"/>
<circle cx="253.9" cy="66.2" r="3.3"/>
<circle cx="271.8" cy="46.1" r="3.3"/>
<circle cx="262.7" cy="45.6" r="3.3"/>
<circle cx="172.9" cy="164.1" r="3.3"/>
<circle cx="250.3" cy="89.9" r="3.3"/>
<circle cx="274.4" cy="57.5" r="3.3"/>
<circle cx="178.9" cy="160.9" r="3.3"/>
<circle cx="199.4" cy="126.6" r="3.3"/>
<circle cx="283.7" cy="52.2" r="3.3"/>
<circle cx="287.8" cy="45.9" r="3.3"/>
<circle cx="202.2" cy="123.2" r="3.3"/>
<circle cx="264.6" cy="65.7" r="3.3"/>
<circle cx="212.3" cy="114.1" r="3.3"/>
<circle cx="253.1" cy="74.8" r="3.3"/>
<circle cx="262.4" cy="86.1" r="3.3"/>
<circle cx="287.8" cy="53.0" r="3.3"/>
<circle cx="139.3" cy="188.5" r="3.3"/>
<circle cx="168.9" cy="152.7" r="3.3"/>
<circle cx="290.2" cy="44.5" r="3.3"/>
<circle cx="271.4" cy="68.5" r="3.3"/>
<circle cx="280.6" cy="55.2" r="3.3"/>
<circle cx="241.9" cy="99.3" r="3.3"/>
<circle cx="163.4" cy="168.4" r="3.3"/>
<circle cx="149.5" cy="186.3" r="3.3"/>
<circle cx="212.5" cy="111.9" r="3.3"/>
<circle cx="247.4" cy="84.9" r="3.3"/>
<circle cx="242.2" cy="88.6" r="3.3"/>
<circle cx="262.7" cy="59.0" r="3.3"/>
<circle cx="236.0" cy="95.5" r="3.3"/>
<circle cx="262.3" cy="55.9" r="3.3"/>
<circle cx="180.2" cy="154.3" r="3.3"/>
<circle cx="248.8" cy="74.4" r="3.3"/>
<circle cx="200.6" cy="126.5" r="3.3"/>
<circle cx="256.9" cy="82.7" r="3.3"/>
<circle cx="258.7" cy="82.2" r="3.3"/>
<circle cx="264.2" cy="58.4" r="3.3"/>
<circle cx="247.5" cy="89.0" r="3.3"/>
<circle cx="272.7" cy="50.5" r="3.3"/>
<circle cx="205.0" cy="115.8" r="3.3"/>
<circle cx="286.1" cy="55.8" r="3.3"/>
<circle cx="284.9" cy="46.0" r="3.3"/>
<circle cx="186.4" cy="143.4" r="3.3"/>
<circle cx="172.8" cy="149.2" r="3.3"/>
<circle cx="231.9" cy="101.2" r="3.3"/>
<circle cx="269.0" cy="54.8" r="3.3"/>
<circle cx="250.6" cy="90.1" r="3.3"/>
<circle cx="276.7" cy="45.7" r="3.3"/>
<circle cx="127.9" cy="198.1" r="3.3"/>
<circle cx="155.7" cy="177.9" r="3.3"/>
<circle cx="233.5" cy="99.6" r="3.3"/>
<circle cx="203.1" cy="127.3" r="3.3"/>
<circle cx="284.6" cy="41.5" r="3.3"/>
<circle cx="215.2" cy="108.7" r="3.3"/>
<circle cx="234.0" cy="99.0" r="3.3"/>
<circle cx="218.0" cy="110.0" r="3.3"/>
<circle cx="160.7" cy="173.0" r="3.3"/>
<circle cx="176.2" cy="153.8" r="3.3"/>
<circle cx="238.7" cy="89.5" r="3.3"/>
<circle cx="174.0" cy="162.8" r="3.3"/>
<circle cx="177.5" cy="158.2" r="3.3"/>
<circle cx="203.3" cy="128.1" r="3.3"/>
<circle cx="262.6" cy="55.9" r="3.3"/>
<circle cx="268.7" cy="53.2" r="3.3"/>
<circle cx="145.4" cy="185.6" r="3.3"/>
<circle cx="285.5" cy="42.9" r="3.3"/>
<circle cx="174.9" cy="158.6" r="3.3"/>
<circle cx="275.9" cy="64.3" r="3.3"/>
<circle cx="146.5" cy="191.6" r="3.3"/>
<circle cx="220.0" cy="111.5" r="3.3"/>
<circle cx="167.0" cy="155.0" r="3.3"/>
<circle cx="205.4" cy="132.2" r="3.3"/>
<circle cx="149.5" cy="188.6" r="3.3"/>
<circle cx="169.8" cy="166.5" r="3.3"/>
<circle cx="254.9" cy="71.5" r="3.3"/>
<circle cx="140.8" cy="190.5" r="3.3"/>
<circle cx="220.3" cy="110.4" r="3.3"/>
<circle cx="128.2" cy="202.8" r="3.3"/>
<circle cx="170.2" cy="151.7" r="3.3"/>
<circle cx="247.6" cy="78.2" r="3.3"/>
<circle cx="265.0" cy="51.9" r="3.3"/>
<circle cx="255.6" cy="72.5" r="3.3"/>
<circle cx="141.5" cy="198.8" r="3.3"/>
<circle cx="138.2" cy="189.3" r="3.3"/>
<circle cx="136.6" cy="183.1" r="3.3"/>
<circle cx="268.1" cy="76.9" r="3.3"/>
<circle cx="266.4" cy="52.9" r="3.3"/>
<circle cx="172.8" cy="155.1" r="3.3"/>
<circle cx="152.7" cy="183.6" r="3.3"/>
<circle cx="283.4" cy="43.0" r="3.3"/>
<circle cx="195.2" cy="126.2" r="3.3"/>
<circle cx="244.0" cy="89.4" r="3.3"/>
<circle cx="186.0" cy="144.2" r="3.3"/>
<circle cx="259.3" cy="81.7" r="3.3"/>
<circle cx="178.2" cy="157.8" r="3.3"/>
<circle cx="279.3" cy="48.2" r="3.3"/>
<circle cx="263.9" cy="47.8" r="3.3"/>
<circle cx="238.8" cy="98.1" r="3.3"/>
<circle cx="197.6" cy="125.6" r="3.3"/>
<circle cx="243.6" cy="86.7" r="3.3"/>
<circle cx="250.5" cy="80.4" r="3.3"/>
<circle cx="254.0" cy="73.1" r="3.3"/>
<circle cx="172.2" cy="163.7" r="3.3"/>
<circle cx="184.5" cy="145.1" r="3.3"/>
<circle cx="169.8" cy="164.9" r="3.3"/>
<circle cx="243.8" cy="98.0" r="3.3"/>
<circle cx="176.7" cy="161.9" r="3.3"/>
<circle cx="164.4" cy="161.3" r="3.3"/>
<circle cx="204.8" cy="128.6" r="3.3"/>
<circle cx="179.3" cy="157.8" r="3.3"/>
<circle cx="134.7" cy="185.0" r="3.3"/>
<circle cx="172.5" cy="148.0" r="3.3"/>
<circle cx="257.1" cy="57.9" r="3.3"/>
<circle cx="259.2" cy="57.8" r="3.3"/>
<circle cx="166.2" cy="164.4" r="3.3"/>
<circle cx="222.6" cy="106.9" r="3.3"/>
<circle cx="139.1" cy="183.4" r="3.3"/>
<circle cx="186.5" cy="157.8" r="3.3"/>
<circle cx="173.8" cy="159.2" r="3.3"/>
<circle cx="193.4" cy="129.3" r="3.3"/>
<circle cx="263.1" cy="55.7" r="3.3"/>
<circle cx="173.0" cy="151.9" r="3.3"/>
<circle cx="288.6" cy="54.0" r="3.3"/>
<circle cx="201.6" cy="126.1" r="3.3"/>
<circle cx="279.3" cy="60.6" r="3.3"/>
<circle cx="217.3" cy="109.7" r="3.3"/>
<circle cx="268.3" cy="57.2" r="3.3"/>
<circle cx="138.5" cy="185.4" r="3.3"/>
<circle cx="269.6" cy="57.4" r="3.3"/>
<circle cx="247.4" cy="83.1" r="3.3"/>
<circle cx="157.2" cy="173.9" r="3.3"/>
<circle cx="269.6" cy="69.0" r="3.3"/>
<circle cx="145.2" cy="186.8" r="3.3"/>
<circle cx="170.2" cy="154.5" r="3.3"/>
<circle cx="255.0" cy="70.6" r="3.3"/>
<circle cx="202.0" cy="131.4" r="3.3"/>
<circle cx="130.6" cy="202.4" r="3.3"/>
<circle cx="265.5" cy="78.0" r="3.3"/>
<circle cx="219.4" cy="112.4" r="3.3"/>
<circle cx="287.4" cy="45.7" r="3.3"/>
<circle cx="125.7" cy="198.9" r="3.3"/>
<circle cx="280.5" cy="45.6" r="3.3"/>
<circle cx="142.5" cy="184.6" r="3.3"/>
<circle cx="205.5" cy="128.8" r="3.3"/>
<circle cx="130.2" cy="197.6" r="3.3"/>
<circle cx="186.4" cy="156.5" r="3.3"/>
<circle cx="160.9" cy="170.5" r="3.3"/>
<circle cx="197.2" cy="129.6" r="3.3"/>
<circle cx="143.3" cy="184.0" r="3.3"/>
<circle cx="190.0" cy="145.4" r="3.3"/>
<circle cx="256.1" cy="85.6" r="3.3"/>
<circle cx="283.0" cy="59.5" r="3.3"/>
<circle cx="243.9" cy="97.4" r="3.3"/>
<circle cx="218.1" cy="112.9" r="3.3"/>
<circle cx="165.1" cy="168.3" r="3.3"/>
<circle cx="209.5" cy="117.1" r="3.3"/>
<circle cx="228.6" cy="104.8" r="3.3"/>
<circle cx="265.9" cy="52.3" r="3.3"/>
<circle cx="199.8" cy="125.2" r="3.3"/>
<circle cx="164.6" cy="166.0" r="3.3"/>
<circle cx="232.4" cy="100.8" r="3.3"/>
<circle cx="283.1" cy="44.1" r="3.3"/>
<circle cx="234.3" cy="99.6" r="3.3"/>
<circle cx="250.4" cy="85.5" r="3.3"/>
<circle cx="254.3" cy="87.4" r="3.3"/>
<circle cx="274.0" cy="52.1" r="3.3"/>
<circle cx="268.3" cy="78.8" r="3.3"/>
<circle cx="267.1" cy="60.3" r="3.3"/>
<circle cx="249.1" cy="90.1" r="3.3"/>
<circle cx="204.1" cy="125.8" r="3.3"/>
<circle cx="197.5" cy="131.4" r="3.3"/>
<circle cx="183.5" cy="148.1" r="3.3"/>
<circle cx="195.4" cy="141.4" r="3.3"/>
<circle cx="239.4" cy="91.1" r="3.3"/>
<circle cx="274.1" cy="66.3" r="3.3"/>
<circle cx="170.6" cy="166.0" r="3.3"/>
<circle cx="140.7" cy="194.8" r="3.3"/>
<circle cx="194.2" cy="132.0" r="3.3"/>
<circle cx="138.7" cy="191.1" r="3.3"/>
<circle cx="201.1" cy="125.3" r="3.3"/>
<circle cx="140.3" cy="199.0" r="3.3"/>
<circle cx="161.8" cy="168.5" r="3.3"/>
<circle cx="268.4" cy="43.7" r="3.3"/>
<circle cx="263.5" cy="75.0" r="3.3"/>
<circle cx="189.3" cy="147.3" r="3.3"/>
<circle cx="266.9" cy="46.5" r="3.3"/>
<circle cx="185.1" cy="154.6" r="3.3"/>
<circle cx="261.0" cy="51.9" r="3.3"/>
<circle cx="129.4" cy="193.0" r="3.3"/>
<circle cx="258.9" cy="87.6" r="3.3"/>
<circle cx="287.5" cy="44.9" r="3.3"/>
<circle cx="171.7" cy="162.8" r="3.3"/>
<circle cx="188.9" cy="146.3" r="3.3"/>
<circle cx="128.7" cy="202.8" r="3.3"/>
<circle cx="170.6" cy="158.5" r="3.3"/>
<circle cx="283.5" cy="56.4" r="3.3"/>
<circle cx="231.9" cy="108.0" r="3.3"/>
<circle cx="145.3" cy="182.1" r="3.3"/>
<circle cx="280.0" cy="55.6" r="3.3"/>
<circle cx="162.4" cy="170.9" r="3.3"/>
<circle cx="188.6" cy="146.2" r="3.3"/>
<circle cx="280.7" cy="53.9" r="3.3"/>
<circle cx="251.9" cy="73.9" r="3.3"/>
<circle cx="183.5" cy="154.0" r="3.3"/>
<circle cx="278.7" cy="56.5" r="3.3"/>
<circle cx="166.7" cy="154.1" r="3.3"/>
<circle cx="274.1" cy="58.4" r="3.3"/>
<circle cx="255.2" cy="78.1" r="3.3"/>
<circle cx="273.6" cy="58.9" r="3.3"/>
<circle cx="169.3" cy="158.0" r="3.3"/>
<circle cx="186.8" cy="141.2" r="3.3"/>
<circle cx="252.9" cy="82.7" r="3.3"/>
<circle cx="254.3" cy="62.5" r="3.3"/>
<circle cx="242.1" cy="93.9" r="3.3"/>
<circle cx="236.0" cy="99.4" r="3.3"/>
<circle cx="191.1" cy="139.1" r="3.3"/>
<circle cx="244.9" cy="85.0" r="3.3"/>
<circle cx="186.0" cy="139.2" r="3.3"/>
<circle cx="245.6" cy="88.2" r="3.3"/>
<circle cx="190.4" cy="148.2" r="3.3"/>
<circle cx="180.3" cy="145.0" r="3.3"/>
<circle cx="196.0" cy="129.9" r="3.3"/>
<circle cx="184.0" cy="159.1" r="3.3"/>
<circle cx="182.0" cy="150.7" r="3.3"/>
<circle cx="138.5" cy="196.3" r="3.3"/>
<circle cx="269.4" cy="50.0" r="3.3"/>
<circle cx="256.5" cy="78.4" r="3.3"/>
<circle cx="245.4" cy="86.4" r="3.3"/>
<circle cx="260.3" cy="64.5" r="3.3"/>
<circle cx="140.3" cy="195.0" r="3.3"/>
<circle cx="247.6" cy="81.0" r="3.3"/>
<circle cx="220.4" cy="109.8" r="3.3"/>
<circle cx="149.1" cy="189.3" r="3.3"/>
<circle cx="167.1" cy="152.9" r="3.3"/>
<circle cx="262.5" cy="77.1" r="3.3"/>
<circle cx="204.3" cy="121.2" r="3.3"/>
<circle cx="178.7" cy="156.4" r="3.3"/>
<circle cx="184.6" cy="148.9" r="3.3"/>
<circle cx="151.7" cy="184.5" r="3.3"/>
<circle cx="193.9" cy="137.1" r="3.3"/>
<circle cx="198.0" cy="121.5" r="3.3"/>
<circle cx="252.6" cy="71.1" r="3.3"/>
<circle cx="287.3" cy="49.0" r="3.3"/>
<circle cx="251.4" cy="68.8" r="3.3"/>
<circle cx="203.7" cy="128.1" r="3.3"/>
<circle cx="143.8" cy="195.9" r="3.3"/>
<circle cx="141.4" cy="195.3" r="3.3"/>
<circle cx="217.0" cy="113.2" r="3.3"/>
<circle cx="182.1" cy="156.0" r="3.3"/>
<circle cx="258.4" cy="86.1" r="3.3"/>
<circle cx="260.3" cy="77.6" r="3.3"/>
<circle cx="264.7" cy="43.3" r="3.3"/>
<circle cx="143.5" cy="192.7" r="3.3"/>
<circle cx="272.5" cy="70.4" r="3.3"/>
<circle cx="290.0" cy="45.8" r="3.3"/>
<circle cx="167.8" cy="164.7" r="3.3"/>
<circle cx="283.8" cy="54.9" r="3.3"/>
<circle cx="266.9" cy="46.0" r="3.3"/>
<circle cx="191.6" cy="133.7" r="3.3"/>
<circle cx="236.7" cy="96.9" r="3.3"/>
<circle cx="147.7" cy="183.0" r="3.3"/>
<circle cx="171.9" cy="158.7" r="3.3"/>
<circle cx="231.7" cy="107.8" r="3.3"/>
<circle cx="274.6" cy="54.6" r="3.3"/>
<circle cx="264.3" cy="48.7" r="3.3"/>
<circle cx="284.6" cy="43.1" r="3.3"/>
<circle cx="133.2" cy="188.3" r="3.3"/>
<circle cx="218.7" cy="113.5" r="3.3"/>
<circle cx="189.4" cy="140.1" r="3.3"/>
<circle cx="191.5" cy="144.2" r="3.3"/>
<circle cx="142.6" cy="189.0" r="3.3"/>
<circle cx="136.5" cy="193.2" r="3.3"/>
<circle cx="169.6" cy="162.9" r="3.3"/>
<circle cx="178.6" cy="153.7" r="3.3"/>
<circle cx="258.3" cy="76.9" r="3.3"/>
<circle cx="230.0" cy="107.6" r="3.3"/>
<circle cx="198.3" cy="122.8" r="3.3"/>
<circle cx="246.8" cy="93.4" r="3.3"/>
<circle cx="168.7" cy="162.7" r="3.3"/>
<circle cx="220.2" cy="111.6" r="3.3"/>
<circle cx="277.1" cy="45.6" r="3.3"/>
<circle cx="270.2" cy="55.4" r="3.3"/>
<circle cx="176.0" cy="151.2" r="3.3"/>
<circle cx="171.8" cy="156.0" r="3.3"/>
<circle cx="244.9" cy="90.9" r="3.3"/>
<circle cx="142.6" cy="185.8" r="3.3"/>
<circle cx="134.9" cy="204.0" r="3.3"/>
<circle cx="262.5" cy="50.9" r="3.3"/>
<circle cx="212.7" cy="116.8" r="3.3"/>
<circle cx="263.1" cy="61.4" r="3.3"/>
<circle cx="263.7" cy="66.8" r="3.3"/>
<circle cx="188.6" cy="141.1" r="3.3"/>
<circle cx="201.5" cy="135.5" r="3.3"/>
<circle cx="288.9" cy="41.3" r="3.3"/>
<circle cx="142.2" cy="187.6" r="3.3"/>
<circle cx="209.2" cy="112.3" r="3.3"/>
<circle cx="227.2" cy="102.4" r="3.3"/>
<circle cx="264.5" cy="42.4" r="3.3"/>
<circle cx="169.4" cy="162.5" r="3.3"/>
<circle cx="201.0" cy="130.7" r="3.3"/>
<circle cx="143.2" cy="195.6" r="3.3"/>
<circle cx="203.2" cy="119.1" r="3.3"/>
<circle cx="194.3" cy="142.0" r="3.3"/>
<circle cx="266.4" cy="59.7" r="3.3"/>
<circle cx="249.9" cy="68.9" r="3.3"/>
<circle cx="191.7" cy="142.0" r="3.3"/>
<circle cx="240.3" cy="89.6" r="3.3"/>
<circle cx="214.6" cy="109.8" r="3.3"/>
<circle cx="261.0" cy="68.4" r="3.3"/>
<circle cx="187.1" cy="151.1" r="3.3"/>
<circle cx="184.4" cy="158.5" r="3.3"/>
<circle cx="285.3" cy="41.6" r="3.3"/>
<circle cx="282.5" cy="44.4" r="3.3"/>
<circle cx="279.4" cy="61.8" r="3.3"/>
<circle cx="220.2" cy="109.9" r="3.3"/>
<circle cx="159.4" cy="168.2" r="3.3"/>
<circle cx="256.0" cy="60.0" r="3.3"/>
<circle cx="237.3" cy="103.3" r="3.3"/>
<circle cx="185.6" cy="145.0" r="3.3"/>
<circle cx="176.5" cy="147.6" r="3.3"/>
<circle cx="145.8" cy="182.1" r="3.3"/>
<circle cx="199.1" cy="122.0" r="3.3"/>
<circle cx="137.1" cy="193.9" r="3.3"/>
<circle cx="271.9" cy="61.3" r="3.3"/>
<circle cx="197.9" cy="125.7" r="3.3"/>
<circle cx="137.6" cy="188.8" r="3.3"/>
<circle cx="201.2" cy="136.5" r="3.3"/>
<circle cx="252.5" cy="84.2" r="3.3"/>
<circle cx="133.3" cy="192.4" r="3.3"/>
<circle cx="132.9" cy="189.4" r="3.3"/>
<circle cx="158.2" cy="178.7" r="3.3"/>
<circle cx="288.2" cy="54.8" r="3.3"/>
<circle cx="263.4" cy="78.2" r="3.3"/>
<circle cx="183.6" cy="160.6" r="3.3"/>
<circle cx="181.2" cy="146.4" r="3.3"/>
<circle cx="188.0" cy="153.1" r="3.3"/>
<circle cx="151.7" cy="185.0" r="3.3"/>
<circle cx="130.6" cy="202.3" r="3.3"/>
<circle cx="194.1" cy="135.8" r="3.3"/>
<circle cx="138.0" cy="199.6" r="3.3"/>
<circle cx="172.7" cy="148.1" r="3.3"/>
<circle cx="186.0" cy="139.2" r="3.3"/>
<circle cx="204.9" cy="136.4" r="3.3"/>
<circle cx="271.2" cy="44.3" r="3.3"/>
<circle cx="180.7" cy="151.9" r="3.3"/>
<circle cx="264.8" cy="81.1" r="3.3"/>
<circle cx="273.9" cy="44.3" r="3.3"/>
<circle cx="262.9" cy="76.3" r="3.3"/>
<circle cx="172.7" cy="147.1" r="3.3"/>
<circle cx="269.9" cy="57.0" r="3.3"/>
<circle cx="139.2" cy="201.9" r="3.3"/>
<circle cx="176.9" cy="160.9" r="3.3"/>
<circle cx="284.4" cy="58.4" r="3.3"/>
<circle cx="160.8" cy="165.3" r="3.3"/>
<circle cx="117.4" cy="198.0" r="3.3"/>
<circle cx="122.4" cy="188.6" r="3.3"/>
<circle cx="157.5" cy="189.0" r="3.3"/>
<circle cx="151.3" cy="173.0" r="3.3"/>
<circle cx="156.6" cy="190.6" r="3.3"/>
<circle cx="280.7" cy="72.9" r="3.3"/>
<circle cx="266.7" cy="92.2" r="3.3"/>
<circle cx="159.5" cy="149.0" r="3.3"/>
<circle cx="244.0" cy="58.3" r="3.3"/>
<circle cx="219.0" cy="98.6" r="3.3"/>
<circle cx="259.2" cy="96.4" r="3.3"/>
<circle cx="304.0" cy="46.3" r="3.3"/>
<circle cx="108.1" cy="221.2" r="3.3"/>
<circle cx="116.4" cy="221.2" r="3.3"/>
<circle cx="112.0" cy="216.0" r="3.3"/>
<circle cx="120.0" cy="208.0" r="3.3"/>
<circle cx="116.0" cy="213.0" r="3.3"/>
<circle cx="59.2" cy="243.7" r="3.3"/>
<circle cx="79.1" cy="227.3" r="3.3"/>
<circle cx="124.0" cy="237.8" r="3.3"/>
<circle cx="116.4" cy="189.2" r="3.3"/>
<circle cx="149.0" cy="157.7" r="3.3"/>
<circle cx="173.2" cy="195.4" r="3.3"/>
<circle cx="144.3" cy="212.0" r="3.3"/>
<circle cx="184.9" cy="61.2" r="3.3"/>
<circle cx="192.3" cy="75.2" r="3.3"/>
<circle cx="215.7" cy="81.4" r="3.3"/>
<circle cx="229.4" cy="93.9" r="3.3"/>
<circle cx="235.2" cy="74.0" r="3.3"/>
<circle cx="239.1" cy="75.2" r="3.3"/>
<circle cx="242.6" cy="67.8" r="3.3"/>
<circle cx="181.9" cy="125.7" r="3.3"/>
<circle cx="170.5" cy="136.5" r="3.3"/>
<circle cx="192.3" cy="114.3" r="3.3"/>
<circle cx="218.2" cy="139.2" r="3.3"/>
<circle cx="211.0" cy="141.2" r="3.3"/>
<circle cx="304.3" cy="37.4" r="3.3"/>
<circle cx="315.2" cy="42.1" r="3.3"/>
<circle cx="319.5" cy="53.4" r="3.3"/>
<circle cx="312.9" cy="57.7" r="3.3"/>
<circle cx="304.3" cy="62.0" r="3.3"/>
<circle cx="307.4" cy="75.2" r="3.3"/>
<circle cx="291.4" cy="45.2" r="3.3"/>
<circle cx="295.3" cy="51.1" r="3.3"/>
<circle cx="291.4" cy="56.9" r="3.3"/>
<circle cx="299.2" cy="55.0" r="3.3"/>
<circle cx="297.3" cy="43.3" r="3.3"/>
<circle cx="307.0" cy="56.9" r="3.3"/>
<circle cx="301.2" cy="49.1" r="3.3"/>
<circle cx="287.5" cy="62.7" r="3.3"/>
<circle cx="293.4" cy="66.6" r="3.3"/>
</g>
<line x1="55.3" y1="273.0" x2="328.5" y2="2.9" stroke="#ff0000" stroke-width="3.1"/>
<line x1="55.3" y1="274.8" x2="328.5" y2="2.4" stroke="#000" stroke-width="3.2"/>
</g>
<rect x="62.8" y="9.8" width="181.0" height="70.5" rx="3" ry="3" fill="#fff" fill-opacity="0.8" stroke="#d2d2d2" stroke-width="1.5"/>
<circle cx="84.1" cy="23.2" r="3.3" fill="#96a825"/>
<line x1="67.3" y1="44.3" x2="100.5" y2="44.3" stroke="#ff0000" stroke-width="3.0"/>
<line x1="67.3" y1="66.4" x2="100.5" y2="66.4" stroke="#000" stroke-width="3.0"/>
<text transform="translate(109.54,27.60) scale(1.208,1)" font-size="14.6">SW</text>
<text transform="translate(143.17,27.60) scale(1.254,1)" font-size="14.6">(MAE:</text>
<text transform="translate(199.26,27.60) scale(1.230,1)" font-size="14.6">0.14)</text>
<text transform="translate(110.24,49.60) scale(1.230,1)" font-size="14.6">reg</text>
<text transform="translate(139.16,49.60) scale(1.266,1)" font-size="14.6">(R</text>
<text transform="translate(158.24,49.60) scale(1.507,1)" font-size="14.6" font-weight="bold">²</text>
<text transform="translate(165.47,49.60) scale(1.106,1)" font-size="14.6">:</text>
<text transform="translate(177.37,49.60) scale(1.213,1)" font-size="14.6">0.99)</text>
<text transform="translate(110.04,71.60) scale(1.282,1)" font-size="14.6">opt</text>
<rect x="55.3" y="2.4" width="273.2" height="272.4" fill="none" stroke="#000" stroke-width="1.7"/>
<line x1="55.3" y1="274.8" x2="55.3" y2="281.8" stroke="#000" stroke-width="1.6"/>
<text transform="translate(49.07,303.10) scale(1.000,1)" font-size="21.3">0</text>
<line x1="133.2" y1="274.8" x2="133.2" y2="281.8" stroke="#000" stroke-width="1.6"/>
<text transform="translate(127.07,303.10) scale(1.000,1)" font-size="21.3">2</text>
<line x1="211.1" y1="274.8" x2="211.1" y2="281.8" stroke="#000" stroke-width="1.6"/>
<text transform="translate(204.86,303.10) scale(1.000,1)" font-size="21.3">4</text>
<line x1="289.0" y1="274.8" x2="289.0" y2="281.8" stroke="#000" stroke-width="1.6"/>
<text transform="translate(282.53,303.10) scale(1.000,1)" font-size="21.3">6</text>
<line x1="55.3" y1="274.8" x2="48.3" y2="274.8" stroke="#000" stroke-width="1.6"/>
<text font-size="21.3" x="41.0" y="282.2" text-anchor="end">0</text>
<line x1="55.3" y1="197.0" x2="48.3" y2="197.0" stroke="#000" stroke-width="1.6"/>
<text font-size="21.3" x="41.0" y="204.4" text-anchor="end">2</text>
<line x1="55.3" y1="119.1" x2="48.3" y2="119.1" stroke="#000" stroke-width="1.6"/>
<text font-size="21.3" x="41.0" y="126.5" text-anchor="end">4</text>
<line x1="55.3" y1="41.3" x2="48.3" y2="41.3" stroke="#000" stroke-width="1.6"/>
<text font-size="21.3" x="41.0" y="48.7" text-anchor="end">6</text>
<text transform="translate(90.67,331.60) scale(1.003,1)" font-size="21.3">real</text>
<text transform="translate(129.58,331.60) scale(0.984,1)" font-size="21.3">image</text>
<text transform="translate(186.73,331.60) scale(1.049,1)" font-size="21.3">est.</text>
<path d="M231.30,316.40 H228.65 V336.00 H231.30" fill="none" stroke="#000" stroke-width="1.1"/>
<text transform="translate(231.90,331.60) scale(1.157,1)" font-size="21.3">t</text>
<text transform="translate(244.70,331.60) scale(0.984,1)" font-size="21.3">ha</text>
<text transform="translate(265.61,324.80) scale(1.328,1)" font-size="14.9">−</text>
<text transform="translate(278.68,324.80) scale(0.858,1)" font-size="14.9">1</text>
<path d="M287.10,316.40 H289.65 V336.00 H287.10" fill="none" stroke="#000" stroke-width="1.1"/>
<g transform="translate(18.8,258.2) rotate(-90)">
<text transform="translate(-0.21,0.00) scale(0.965,1)" font-size="21.3">process-based</text>
<text transform="translate(122.98,0.00) scale(1.029,1)" font-size="21.3">pred.</text>
<path d="M180.77,-15.20 H178.15 V4.40 H180.77" fill="none" stroke="#000" stroke-width="1.1"/>
<text transform="translate(181.36,0.00) scale(1.145,1)" font-size="21.3">t</text>
<text transform="translate(194.03,0.00) scale(0.974,1)" font-size="21.3">ha</text>
<text transform="translate(214.73,-6.80) scale(1.315,1)" font-size="14.9">−</text>
<text transform="translate(227.67,-6.80) scale(0.849,1)" font-size="14.9">1</text>
<path d="M236.01,-15.20 H238.53 V4.40 H236.01" fill="none" stroke="#000" stroke-width="1.1"/>
</g>
<defs><clipPath id="c1"><rect x="410.3" y="2.4" width="273.0" height="272.4"/></clipPath></defs>
<g clip-path="url(#c1)">
<g fill="#27a694">
<circle cx="487.3" cy="198.9" r="3.3"/>
<circle cx="488.9" cy="202.6" r="3.3"/>
<circle cx="438.0" cy="239.0" r="3.3"/>
<circle cx="490.4" cy="204.0" r="3.3"/>
<circle cx="487.5" cy="204.6" r="3.3"/>
<circle cx="467.8" cy="209.1" r="3.3"/>
<circle cx="481.9" cy="218.8" r="3.3"/>
<circle cx="438.6" cy="252.5" r="3.3"/>
<circle cx="426.8" cy="250.4" r="3.3"/>
<circle cx="418.4" cy="255.6" r="3.3"/>
<circle cx="474.3" cy="220.5" r="3.3"/>
<circle cx="448.6" cy="242.3" r="3.3"/>
<circle cx="462.0" cy="213.3" r="3.3"/>
<circle cx="468.5" cy="206.1" r="3.3"/>
<circle cx="478.9" cy="187.3" r="3.3"/>
<circle cx="463.0" cy="209.8" r="3.3"/>
<circle cx="462.1" cy="223.2" r="3.3"/>
<circle cx="465.5" cy="221.0" r="3.3"/>
<circle cx="506.8" cy="184.4" r="3.3"/>
<circle cx="446.6" cy="242.6" r="3.3"/>
<circle cx="463.2" cy="229.8" r="3.3"/>
<circle cx="487.9" cy="194.8" r="3.3"/>
<circle cx="447.2" cy="227.2" r="3.3"/>
<circle cx="428.8" cy="251.5" r="3.3"/>
<circle cx="449.6" cy="226.3" r="3.3"/>
<circle cx="498.0" cy="175.8" r="3.3"/>
<circle cx="428.9" cy="255.1" r="3.3"/>
<circle cx="498.3" cy="197.2" r="3.3"/>
<circle cx="444.8" cy="238.9" r="3.3"/>
<circle cx="459.2" cy="231.1" r="3.3"/>
<circle cx="447.1" cy="229.1" r="3.3"/>
<circle cx="444.4" cy="247.3" r="3.3"/>
<circle cx="494.3" cy="178.0" r="3.3"/>
<circle cx="425.9" cy="255.5" r="3.3"/>
<circle cx="435.1" cy="242.0" r="3.3"/>
<circle cx="483.3" cy="192.5" r="3.3"/>
<circle cx="485.0" cy="199.7" r="3.3"/>
<circle cx="458.2" cy="232.5" r="3.3"/>
<circle cx="510.6" cy="177.9" r="3.3"/>
<circle cx="496.1" cy="177.2" r="3.3"/>
<circle cx="431.8" cy="243.4" r="3.3"/>
<circle cx="462.5" cy="221.0" r="3.3"/>
<circle cx="484.3" cy="195.6" r="3.3"/>
<circle cx="451.3" cy="232.2" r="3.3"/>
<circle cx="479.2" cy="210.7" r="3.3"/>
<circle cx="472.5" cy="215.7" r="3.3"/>
<circle cx="485.2" cy="193.4" r="3.3"/>
<circle cx="508.5" cy="178.8" r="3.3"/>
<circle cx="491.6" cy="176.6" r="3.3"/>
<circle cx="457.3" cy="215.8" r="3.3"/>
<circle cx="456.3" cy="221.5" r="3.3"/>
<circle cx="447.8" cy="222.9" r="3.3"/>
<circle cx="455.9" cy="239.9" r="3.3"/>
<circle cx="497.6" cy="187.5" r="3.3"/>
<circle cx="463.1" cy="227.6" r="3.3"/>
<circle cx="451.8" cy="230.1" r="3.3"/>
<circle cx="484.2" cy="186.7" r="3.3"/>
<circle cx="484.9" cy="183.3" r="3.3"/>
<circle cx="470.7" cy="193.4" r="3.3"/>
<circle cx="492.7" cy="200.1" r="3.3"/>
<circle cx="486.4" cy="204.3" r="3.3"/>
<circle cx="445.8" cy="251.1" r="3.3"/>
<circle cx="418.0" cy="256.2" r="3.3"/>
<circle cx="455.2" cy="245.2" r="3.3"/>
<circle cx="507.5" cy="174.8" r="3.3"/>
<circle cx="489.4" cy="212.7" r="3.3"/>
<circle cx="463.3" cy="213.5" r="3.3"/>
<circle cx="455.9" cy="231.6" r="3.3"/>
<circle cx="503.7" cy="182.4" r="3.3"/>
<circle cx="492.8" cy="182.7" r="3.3"/>
<circle cx="505.8" cy="176.4" r="3.3"/>
<circle cx="487.7" cy="186.2" r="3.3"/>
<circle cx="450.2" cy="248.4" r="3.3"/>
<circle cx="492.8" cy="211.2" r="3.3"/>
<circle cx="462.8" cy="229.6" r="3.3"/>
<circle cx="473.8" cy="215.1" r="3.3"/>
<circle cx="421.9" cy="255.1" r="3.3"/>
<circle cx="497.3" cy="199.1" r="3.3"/>
<circle cx="486.2" cy="186.2" r="3.3"/>
<circle cx="473.5" cy="210.2" r="3.3"/>
<circle cx="465.3" cy="225.5" r="3.3"/>
<circle cx="446.3" cy="241.5" r="3.3"/>
<circle cx="479.8" cy="202.2" r="3.3"/>
<circle cx="489.9" cy="198.1" r="3.3"/>
<circle cx="436.5" cy="243.6" r="3.3"/>
<circle cx="481.7" cy="207.7" r="3.3"/>
<circle cx="466.4" cy="223.6" r="3.3"/>
<circle cx="464.8" cy="203.2" r="3.3"/>
<circle cx="497.8" cy="208.0" r="3.3"/>
<circle cx="514.5" cy="174.6" r="3.3"/>
<circle cx="471.4" cy="199.7" r="3.3"/>
<circle cx="459.2" cy="223.8" r="3.3"/>
<circle cx="501.6" cy="189.6" r="3.3"/>
<circle cx="473.6" cy="200.8" r="3.3"/>
<circle cx="485.4" cy="200.3" r="3.3"/>
<circle cx="485.4" cy="181.4" r="3.3"/>
<circle cx="489.9" cy="209.0" r="3.3"/>
<circle cx="480.5" cy="192.3" r="3.3"/>
<circle cx="509.5" cy="177.5" r="3.3"/>
<circle cx="473.5" cy="220.7" r="3.3"/>
<circle cx="493.2" cy="188.9" r="3.3"/>
<circle cx="493.3" cy="212.0" r="3.3"/>
<circle cx="444.2" cy="251.7" r="3.3"/>
<circle cx="462.7" cy="217.5" r="3.3"/>
<circle cx="430.9" cy="250.1" r="3.3"/>
<circle cx="444.7" cy="241.1" r="3.3"/>
<circle cx="474.9" cy="189.0" r="3.3"/>
<circle cx="501.9" cy="183.7" r="3.3"/>
<circle cx="471.2" cy="203.7" r="3.3"/>
<circle cx="457.0" cy="224.9" r="3.3"/>
<circle cx="468.4" cy="210.5" r="3.3"/>
<circle cx="480.0" cy="200.9" r="3.3"/>
<circle cx="483.6" cy="208.6" r="3.3"/>
<circle cx="502.5" cy="185.7" r="3.3"/>
<circle cx="491.3" cy="206.8" r="3.3"/>
<circle cx="511.1" cy="178.6" r="3.3"/>
<circle cx="436.1" cy="252.4" r="3.3"/>
<circle cx="479.3" cy="204.8" r="3.3"/>
<circle cx="494.1" cy="212.6" r="3.3"/>
<circle cx="467.3" cy="196.5" r="3.3"/>
<circle cx="439.6" cy="254.7" r="3.3"/>
<circle cx="418.1" cy="254.3" r="3.3"/>
<circle cx="484.4" cy="192.3" r="3.3"/>
<circle cx="516.4" cy="176.8" r="3.3"/>
<circle cx="472.4" cy="215.9" r="3.3"/>
<circle cx="468.9" cy="199.9" r="3.3"/>
<circle cx="466.9" cy="224.1" r="3.3"/>
<circle cx="481.9" cy="193.9" r="3.3"/>
<circle cx="417.2" cy="257.0" r="3.3"/>
<circle cx="472.9" cy="209.5" r="3.3"/>
<circle cx="454.3" cy="223.2" r="3.3"/>
<circle cx="482.8" cy="193.1" r="3.3"/>
<circle cx="446.9" cy="250.9" r="3.3"/>
<circle cx="420.6" cy="257.0" r="3.3"/>
<circle cx="496.8" cy="175.2" r="3.3"/>
<circle cx="481.4" cy="201.6" r="3.3"/>
<circle cx="471.8" cy="209.2" r="3.3"/>
<circle cx="439.7" cy="251.8" r="3.3"/>
<circle cx="503.7" cy="182.5" r="3.3"/>
<circle cx="488.6" cy="192.0" r="3.3"/>
<circle cx="494.2" cy="208.4" r="3.3"/>
<circle cx="441.5" cy="243.7" r="3.3"/>
<circle cx="433.0" cy="253.3" r="3.3"/>
<circle cx="496.8" cy="177.6" r="3.3"/>
<circle cx="493.1" cy="194.4" r="3.3"/>
<circle cx="463.4" cy="207.1" r="3.3"/>
<circle cx="446.0" cy="236.8" r="3.3"/>
<circle cx="455.5" cy="236.1" r="3.3"/>
<circle cx="482.5" cy="211.3" r="3.3"/>
<circle cx="433.1" cy="247.1" r="3.3"/>
<circle cx="488.0" cy="216.2" r="3.3"/>
<circle cx="488.7" cy="182.9" r="3.3"/>
<circle cx="428.5" cy="245.0" r="3.3"/>
<circle cx="477.3" cy="194.5" r="3.3"/>
<circle cx="447.8" cy="241.4" r="3.3"/>
<circle cx="437.6" cy="250.6" r="3.3"/>
<circle cx="476.4" cy="217.8" r="3.3"/>
<circle cx="461.4" cy="227.7" r="3.3"/>
<circle cx="439.3" cy="250.2" r="3.3"/>
<circle cx="469.7" cy="202.1" r="3.3"/>
<circle cx="489.5" cy="187.4" r="3.3"/>
<circle cx="491.4" cy="197.1" r="3.3"/>
<circle cx="492.0" cy="208.1" r="3.3"/>
<circle cx="493.7" cy="209.4" r="3.3"/>
<circle cx="436.5" cy="248.6" r="3.3"/>
<circle cx="498.5" cy="200.6" r="3.3"/>
<circle cx="482.5" cy="202.5" r="3.3"/>
<circle cx="456.3" cy="231.0" r="3.3"/>
<circle cx="482.7" cy="199.3" r="3.3"/>
<circle cx="504.1" cy="187.2" r="3.3"/>
<circle cx="495.6" cy="201.8" r="3.3"/>
<circle cx="437.3" cy="249.5" r="3.3"/>
<circle cx="456.5" cy="242.7" r="3.3"/>
<circle cx="435.6" cy="253.0" r="3.3"/>
<circle cx="431.7" cy="250.7" r="3.3"/>
<circle cx="467.4" cy="202.0" r="3.3"/>
<circle cx="478.6" cy="213.0" r="3.3"/>
<circle cx="445.9" cy="244.1" r="3.3"/>
<circle cx="437.9" cy="239.3" r="3.3"/>
<circle cx="501.0" cy="185.3" r="3.3"/>
<circle cx="482.6" cy="212.0" r="3.3"/>
<circle cx="472.0" cy="194.1" r="3.3"/>
<circle cx="425.8" cy="252.7" r="3.3"/>
<circle cx="460.6" cy="235.4" r="3.3"/>
<circle cx="473.7" cy="195.5" r="3.3"/>
<circle cx="503.4" cy="183.1" r="3.3"/>
<circle cx="505.2" cy="182.6" r="3.3"/>
<circle cx="448.1" cy="248.4" r="3.3"/>
<circle cx="447.6" cy="230.3" r="3.3"/>
<circle cx="473.4" cy="218.9" r="3.3"/>
<circle cx="475.2" cy="214.2" r="3.3"/>
<circle cx="488.3" cy="206.2" r="3.3"/>
<circle cx="465.5" cy="208.3" r="3.3"/>
<circle cx="447.2" cy="237.4" r="3.3"/>
<circle cx="448.0" cy="238.7" r="3.3"/>
<circle cx="432.9" cy="253.3" r="3.3"/>
<circle cx="450.9" cy="237.7" r="3.3"/>
<circle cx="466.1" cy="215.6" r="3.3"/>
<circle cx="453.5" cy="221.4" r="3.3"/>
<circle cx="497.6" cy="194.2" r="3.3"/>
<circle cx="487.6" cy="189.9" r="3.3"/>
<circle cx="480.9" cy="202.9" r="3.3"/>
<circle cx="492.4" cy="193.3" r="3.3"/>
<circle cx="447.6" cy="224.9" r="3.3"/>
<circle cx="457.0" cy="221.1" r="3.3"/>
<circle cx="502.8" cy="184.1" r="3.3"/>
<circle cx="469.9" cy="211.2" r="3.3"/>
<circle cx="453.1" cy="234.3" r="3.3"/>
<circle cx="440.3" cy="254.7" r="3.3"/>
<circle cx="449.2" cy="251.2" r="3.3"/>
<circle cx="483.0" cy="194.5" r="3.3"/>
<circle cx="438.2" cy="256.5" r="3.3"/>
<circle cx="482.0" cy="207.8" r="3.3"/>
<circle cx="465.1" cy="209.8" r="3.3"/>
<circle cx="481.7" cy="207.4" r="3.3"/>
<circle cx="436.4" cy="257.7" r="3.3"/>
<circle cx="486.3" cy="182.7" r="3.3"/>
<circle cx="452.3" cy="246.3" r="3.3"/>
<circle cx="493.3" cy="183.3" r="3.3"/>
<circle cx="491.1" cy="198.7" r="3.3"/>
<circle cx="460.0" cy="235.0" r="3.3"/>
<circle cx="455.4" cy="236.6" r="3.3"/>
<circle cx="438.2" cy="252.4" r="3.3"/>
<circle cx="473.6" cy="213.8" r="3.3"/>
<circle cx="480.0" cy="202.4" r="3.3"/>
<circle cx="439.4" cy="257.3" r="3.3"/>
<circle cx="452.5" cy="223.5" r="3.3"/>
<circle cx="457.5" cy="226.0" r="3.3"/>
<circle cx="462.8" cy="224.1" r="3.3"/>
<circle cx="490.9" cy="210.7" r="3.3"/>
<circle cx="493.5" cy="184.3" r="3.3"/>
<circle cx="434.5" cy="245.8" r="3.3"/>
<circle cx="486.8" cy="208.4" r="3.3"/>
<circle cx="467.7" cy="198.0" r="3.3"/>
<circle cx="502.6" cy="177.5" r="3.3"/>
<circle cx="499.6" cy="189.7" r="3.3"/>
<circle cx="454.6" cy="246.2" r="3.3"/>
<circle cx="441.1" cy="253.9" r="3.3"/>
<circle cx="483.5" cy="220.0" r="3.3"/>
<circle cx="469.3" cy="220.9" r="3.3"/>
<circle cx="511.6" cy="175.8" r="3.3"/>
<circle cx="451.0" cy="224.3" r="3.3"/>
<circle cx="487.0" cy="203.7" r="3.3"/>
<circle cx="423.1" cy="257.0" r="3.3"/>
<circle cx="451.8" cy="245.7" r="3.3"/>
<circle cx="501.9" cy="183.3" r="3.3"/>
<circle cx="483.1" cy="215.0" r="3.3"/>
<circle cx="483.6" cy="214.6" r="3.3"/>
<circle cx="483.2" cy="210.3" r="3.3"/>
<circle cx="476.0" cy="218.9" r="3.3"/>
<circle cx="448.7" cy="227.7" r="3.3"/>
<circle cx="503.0" cy="185.2" r="3.3"/>
<circle cx="501.6" cy="184.6" r="3.3"/>
<circle cx="469.4" cy="222.9" r="3.3"/>
<circle cx="459.1" cy="223.3" r="3.3"/>
<circle cx="482.3" cy="198.2" r="3.3"/>
<circle cx="446.5" cy="245.5" r="3.3"/>
<circle cx="430.1" cy="250.9" r="3.3"/>
<circle cx="467.7" cy="221.2" r="3.3"/>
<circle cx="456.9" cy="238.8" r="3.3"/>
<circle cx="484.8" cy="220.3" r="3.3"/>
<circle cx="495.6" cy="194.7" r="3.3"/>
<circle cx="486.8" cy="209.9" r="3.3"/>
<circle cx="520.6" cy="177.1" r="3.3"/>
<circle cx="450.4" cy="233.4" r="3.3"/>
<circle cx="511.1" cy="177.4" r="3.3"/>
<circle cx="478.2" cy="206.5" r="3.3"/>
<circle cx="511.4" cy="176.5" r="3.3"/>
<circle cx="498.7" cy="182.5" r="3.3"/>
<circle cx="415.5" cy="258.6" r="3.3"/>
<circle cx="465.0" cy="208.4" r="3.3"/>
<circle cx="457.4" cy="229.5" r="3.3"/>
<circle cx="419.8" cy="252.1" r="3.3"/>
<circle cx="479.8" cy="213.1" r="3.3"/>
<circle cx="448.0" cy="223.6" r="3.3"/>
<circle cx="495.3" cy="187.5" r="3.3"/>
<circle cx="497.2" cy="205.3" r="3.3"/>
<circle cx="464.5" cy="214.9" r="3.3"/>
<circle cx="477.3" cy="222.4" r="3.3"/>
<circle cx="472.8" cy="191.3" r="3.3"/>
<circle cx="477.9" cy="216.9" r="3.3"/>
<circle cx="440.0" cy="250.3" r="3.3"/>
<circle cx="429.5" cy="256.4" r="3.3"/>
<circle cx="472.3" cy="195.8" r="3.3"/>
<circle cx="470.1" cy="210.7" r="3.3"/>
<circle cx="500.5" cy="177.6" r="3.3"/>
<circle cx="434.7" cy="243.9" r="3.3"/>
<circle cx="453.2" cy="249.0" r="3.3"/>
<circle cx="429.4" cy="249.2" r="3.3"/>
<circle cx="451.0" cy="249.1" r="3.3"/>
<circle cx="448.3" cy="234.5" r="3.3"/>
<circle cx="487.3" cy="198.2" r="3.3"/>
<circle cx="486.0" cy="202.3" r="3.3"/>
<circle cx="456.3" cy="240.8" r="3.3"/>
<circle cx="485.8" cy="202.6" r="3.3"/>
<circle cx="464.9" cy="207.8" r="3.3"/>
<circle cx="439.2" cy="240.2" r="3.3"/>
<circle cx="485.0" cy="201.4" r="3.3"/>
<circle cx="481.9" cy="208.5" r="3.3"/>
<circle cx="464.3" cy="204.5" r="3.3"/>
<circle cx="443.4" cy="247.9" r="3.3"/>
<circle cx="451.0" cy="238.7" r="3.3"/>
<circle cx="439.3" cy="257.6" r="3.3"/>
<circle cx="451.2" cy="251.4" r="3.3"/>
<circle cx="453.1" cy="234.0" r="3.3"/>
<circle cx="494.0" cy="213.1" r="3.3"/>
<circle cx="493.0" cy="207.2" r="3.3"/>
<circle cx="495.8" cy="180.5" r="3.3"/>
<circle cx="458.3" cy="240.4" r="3.3"/>
<circle cx="504.5" cy="187.4" r="3.3"/>
<circle cx="495.5" cy="203.0" r="3.3"/>
<circle cx="470.4" cy="192.5" r="3.3"/>
<circle cx="432.2" cy="256.8" r="3.3"/>
<circle cx="452.9" cy="240.7" r="3.3"/>
<circle cx="483.3" cy="207.9" r="3.3"/>
<circle cx="495.2" cy="179.8" r="3.3"/>
<circle cx="515.2" cy="175.8" r="3.3"/>
<circle cx="431.5" cy="257.8" r="3.3"/>
<circle cx="515.5" cy="177.4" r="3.3"/>
<circle cx="487.6" cy="181.2" r="3.3"/>
<circle cx="435.9" cy="253.6" r="3.3"/>
<circle cx="482.5" cy="191.3" r="3.3"/>
<circle cx="474.4" cy="219.2" r="3.3"/>
<circle cx="496.9" cy="206.1" r="3.3"/>
<circle cx="483.4" cy="205.6" r="3.3"/>
<circle cx="443.4" cy="236.0" r="3.3"/>
<circle cx="505.2" cy="185.7" r="3.3"/>
<circle cx="486.1" cy="181.5" r="3.3"/>
<circle cx="487.1" cy="188.2" r="3.3"/>
<circle cx="479.7" cy="212.1" r="3.3"/>
<circle cx="459.9" cy="217.0" r="3.3"/>
<circle cx="459.7" cy="230.6" r="3.3"/>
<circle cx="466.7" cy="200.7" r="3.3"/>
<circle cx="504.3" cy="182.2" r="3.3"/>
<circle cx="440.2" cy="249.4" r="3.3"/>
<circle cx="471.1" cy="219.1" r="3.3"/>
<circle cx="437.7" cy="256.8" r="3.3"/>
<circle cx="480.0" cy="202.4" r="3.3"/>
<circle cx="435.8" cy="249.4" r="3.3"/>
<circle cx="486.6" cy="218.4" r="3.3"/>
<circle cx="491.6" cy="189.6" r="3.3"/>
<circle cx="472.2" cy="203.2" r="3.3"/>
<circle cx="471.8" cy="205.0" r="3.3"/>
<circle cx="488.8" cy="211.1" r="3.3"/>
<circle cx="470.9" cy="196.6" r="3.3"/>
<circle cx="502.6" cy="186.5" r="3.3"/>
<circle cx="450.9" cy="233.0" r="3.3"/>
<circle cx="491.3" cy="211.3" r="3.3"/>
<circle cx="441.2" cy="245.1" r="3.3"/>
<circle cx="487.5" cy="200.1" r="3.3"/>
<circle cx="467.6" cy="214.6" r="3.3"/>
<circle cx="448.8" cy="233.3" r="3.3"/>
<circle cx="473.5" cy="217.8" r="3.3"/>
<circle cx="485.9" cy="220.2" r="3.3"/>
<circle cx="461.7" cy="216.4" r="3.3"/>
<circle cx="476.8" cy="209.1" r="3.3"/>
<circle cx="454.0" cy="246.0" r="3.3"/>
<circle cx="512.6" cy="176.6" r="3.3"/>
<circle cx="449.3" cy="241.3" r="3.3"/>
<circle cx="481.8" cy="196.6" r="3.3"/>
<circle cx="462.8" cy="217.3" r="3.3"/>
<circle cx="498.1" cy="198.5" r="3.3"/>
<circle cx="498.9" cy="181.0" r="3.3"/>
<circle cx="485.6" cy="199.0" r="3.3"/>
<circle cx="489.2" cy="210.3" r="3.3"/>
<circle cx="453.6" cy="241.3" r="3.3"/>
<circle cx="468.4" cy="218.4" r="3.3"/>
<circle cx="465.5" cy="199.3" r="3.3"/>
<circle cx="481.9" cy="213.3" r="3.3"/>
<circle cx="502.2" cy="178.0" r="3.3"/>
<circle cx="474.3" cy="203.5" r="3.3"/>
<circle cx="462.2" cy="212.6" r="3.3"/>
<circle cx="485.9" cy="196.1" r="3.3"/>
<circle cx="469.7" cy="222.9" r="3.3"/>
<circle cx="479.4" cy="216.7" r="3.3"/>
<circle cx="479.4" cy="197.7" r="3.3"/>
<circle cx="469.0" cy="205.7" r="3.3"/>
<circle cx="501.7" cy="186.7" r="3.3"/>
<circle cx="468.7" cy="207.0" r="3.3"/>
<circle cx="456.9" cy="239.2" r="3.3"/>
<circle cx="476.9" cy="210.1" r="3.3"/>
<circle cx="471.3" cy="219.2" r="3.3"/>
<circle cx="464.0" cy="211.7" r="3.3"/>
<circle cx="437.7" cy="258.0" r="3.3"/>
<circle cx="452.1" cy="242.3" r="3.3"/>
<circle cx="488.2" cy="188.0" r="3.3"/>
<circle cx="443.3" cy="233.3" r="3.3"/>
<circle cx="440.0" cy="253.1" r="3.3"/>
<circle cx="494.3" cy="203.8" r="3.3"/>
<circle cx="498.7" cy="196.5" r="3.3"/>
<circle cx="501.4" cy="179.1" r="3.3"/>
<circle cx="470.4" cy="205.0" r="3.3"/>
<circle cx="513.5" cy="181.4" r="3.3"/>
<circle cx="487.2" cy="186.2" r="3.3"/>
<circle cx="497.0" cy="183.2" r="3.3"/>
<circle cx="497.1" cy="193.2" r="3.3"/>
<circle cx="445.1" cy="250.4" r="3.3"/>
<circle cx="498.1" cy="193.4" r="3.3"/>
<circle cx="489.4" cy="199.7" r="3.3"/>
<circle cx="483.1" cy="202.4" r="3.3"/>
<circle cx="455.0" cy="233.0" r="3.3"/>
<circle cx="470.2" cy="222.5" r="3.3"/>
<circle cx="487.7" cy="190.4" r="3.3"/>
<circle cx="472.8" cy="210.0" r="3.3"/>
<circle cx="500.3" cy="174.8" r="3.3"/>
<circle cx="430.3" cy="249.9" r="3.3"/>
<circle cx="446.4" cy="231.8" r="3.3"/>
<circle cx="445.3" cy="236.2" r="3.3"/>
<circle cx="501.1" cy="176.4" r="3.3"/>
<circle cx="503.4" cy="186.3" r="3.3"/>
<circle cx="490.4" cy="209.7" r="3.3"/>
<circle cx="441.0" cy="256.0" r="3.3"/>
<circle cx="456.9" cy="233.0" r="3.3"/>
<circle cx="457.1" cy="242.1" r="3.3"/>
<circle cx="501.0" cy="193.3" r="3.3"/>
<circle cx="449.7" cy="249.6" r="3.3"/>
<circle cx="450.6" cy="227.8" r="3.3"/>
<circle cx="446.9" cy="247.3" r="3.3"/>
<circle cx="478.8" cy="206.1" r="3.3"/>
<circle cx="480.2" cy="212.6" r="3.3"/>
<circle cx="485.8" cy="180.9" r="3.3"/>
<circle cx="518.7" cy="178.4" r="3.3"/>
<circle cx="461.1" cy="216.4" r="3.3"/>
<circle cx="420.5" cy="256.1" r="3.3"/>
<circle cx="472.8" cy="220.5" r="3.3"/>
<circle cx="431.1" cy="253.5" r="3.3"/>
<circle cx="451.2" cy="242.6" r="3.3"/>
<circle cx="456.9" cy="228.7" r="3.3"/>
<circle cx="452.5" cy="237.3" r="3.3"/>
<circle cx="469.7" cy="206.4" r="3.3"/>
<circle cx="482.7" cy="209.9" r="3.3"/>
<circle cx="460.8" cy="233.0" r="3.3"/>
<circle cx="495.5" cy="195.3" r="3.3"/>
<circle cx="464.7" cy="203.1" r="3.3"/>
<circle cx="468.1" cy="213.5" r="3.3"/>
<circle cx="470.1" cy="210.6" r="3.3"/>
<circle cx="450.2" cy="234.5" r="3.3"/>
<circle cx="453.5" cy="230.7" r="3.3"/>
<circle cx="480.8" cy="195.4" r="3.3"/>
<circle cx="436.1" cy="243.5" r="3.3"/>
<circle cx="482.4" cy="203.5" r="3.3"/>
<circle cx="493.9" cy="190.3" r="3.3"/>
<circle cx="428.8" cy="246.4" r="3.3"/>
<circle cx="436.9" cy="250.9" r="3.3"/>
<circle cx="441.0" cy="245.6" r="3.3"/>
<circle cx="483.9" cy="188.6" r="3.3"/>
<circle cx="425.2" cy="253.2" r="3.3"/>
<circle cx="443.9" cy="252.4" r="3.3"/>
<circle cx="482.9" cy="208.1" r="3.3"/>
<circle cx="514.4" cy="178.4" r="3.3"/>
<circle cx="452.2" cy="236.4" r="3.3"/>
<circle cx="448.0" cy="222.5" r="3.3"/>
<circle cx="479.3" cy="189.8" r="3.3"/>
<circle cx="479.2" cy="207.4" r="3.3"/>
<circle cx="482.5" cy="202.5" r="3.3"/>
<circle cx="474.6" cy="215.5" r="3.3"/>
<circle cx="421.5" cy="250.3" r="3.3"/>
<circle cx="470.3" cy="222.6" r="3.3"/>
<circle cx="487.1" cy="212.0" r="3.3"/>
<circle cx="446.8" cy="226.4" r="3.3"/>
<circle cx="505.0" cy="179.5" r="3.3"/>
<circle cx="456.7" cy="238.5" r="3.3"/>
<circle cx="464.5" cy="217.1" r="3.3"/>
<circle cx="479.9" cy="204.0" r="3.3"/>
<circle cx="460.5" cy="229.4" r="3.3"/>
<circle cx="510.7" cy="176.2" r="3.3"/>
<circle cx="445.2" cy="243.8" r="3.3"/>
<circle cx="442.7" cy="239.1" r="3.3"/>
<circle cx="493.6" cy="186.6" r="3.3"/>
<circle cx="460.2" cy="216.4" r="3.3"/>
<circle cx="457.6" cy="239.7" r="3.3"/>
<circle cx="452.5" cy="250.1" r="3.3"/>
<circle cx="472.6" cy="206.3" r="3.3"/>
<circle cx="420.9" cy="250.5" r="3.3"/>
<circle cx="441.2" cy="254.1" r="3.3"/>
<circle cx="473.6" cy="198.7" r="3.3"/>
<circle cx="468.9" cy="203.4" r="3.3"/>
<circle cx="431.2" cy="240.9" r="3.3"/>
<circle cx="427.7" cy="247.2" r="3.3"/>
<circle cx="460.8" cy="218.9" r="3.3"/>
<circle cx="427.4" cy="244.2" r="3.3"/>
<circle cx="447.5" cy="239.3" r="3.3"/>
<circle cx="441.7" cy="238.3" r="3.3"/>
<circle cx="424.1" cy="250.8" r="3.3"/>
<circle cx="472.1" cy="190.6" r="3.3"/>
<circle cx="427.2" cy="250.0" r="3.3"/>
<circle cx="453.9" cy="226.8" r="3.3"/>
<circle cx="443.0" cy="233.7" r="3.3"/>
<circle cx="481.4" cy="192.7" r="3.3"/>
<circle cx="444.8" cy="251.8" r="3.3"/>
<circle cx="445.2" cy="236.7" r="3.3"/>
<circle cx="513.1" cy="174.7" r="3.3"/>
<circle cx="464.1" cy="204.9" r="3.3"/>
<circle cx="480.6" cy="218.6" r="3.3"/>
<circle cx="472.8" cy="195.2" r="3.3"/>
<circle cx="445.5" cy="238.0" r="3.3"/>
<circle cx="510.9" cy="182.8" r="3.3"/>
<circle cx="465.4" cy="211.5" r="3.3"/>
<circle cx="438.5" cy="249.6" r="3.3"/>
<circle cx="481.2" cy="197.1" r="3.3"/>
<circle cx="433.3" cy="254.6" r="3.3"/>
<circle cx="427.4" cy="252.0" r="3.3"/>
<circle cx="415.7" cy="257.1" r="3.3"/>
<circle cx="475.7" cy="189.3" r="3.3"/>
<circle cx="519.6" cy="175.4" r="3.3"/>
<circle cx="505.5" cy="178.4" r="3.3"/>
<circle cx="430.4" cy="257.4" r="3.3"/>
<circle cx="470.0" cy="199.4" r="3.3"/>
<circle cx="446.9" cy="234.9" r="3.3"/>
<circle cx="499.7" cy="179.1" r="3.3"/>
<circle cx="497.0" cy="207.4" r="3.3"/>
<circle cx="486.2" cy="203.8" r="3.3"/>
<circle cx="433.3" cy="252.6" r="3.3"/>
<circle cx="497.4" cy="196.9" r="3.3"/>
<circle cx="481.8" cy="190.7" r="3.3"/>
<circle cx="499.0" cy="205.6" r="3.3"/>
<circle cx="477.2" cy="191.2" r="3.3"/>
<circle cx="425.8" cy="251.6" r="3.3"/>
<circle cx="485.8" cy="209.3" r="3.3"/>
<circle cx="496.0" cy="204.1" r="3.3"/>
<circle cx="480.3" cy="199.0" r="3.3"/>
<circle cx="462.6" cy="216.9" r="3.3"/>
<circle cx="491.0" cy="187.5" r="3.3"/>
<circle cx="456.4" cy="225.7" r="3.3"/>
<circle cx="494.6" cy="198.0" r="3.3"/>
<circle cx="493.3" cy="205.9" r="3.3"/>
<circle cx="471.6" cy="212.3" r="3.3"/>
<circle cx="477.1" cy="196.0" r="3.3"/>
<circle cx="439.8" cy="251.3" r="3.3"/>
<circle cx="448.4" cy="247.0" r="3.3"/>
<circle cx="474.8" cy="209.1" r="3.3"/>
<circle cx="456.1" cy="231.0" r="3.3"/>
<circle cx="494.3" cy="188.1" r="3.3"/>
<circle cx="485.7" cy="188.4" r="3.3"/>
<circle cx="491.9" cy="190.0" r="3.3"/>
<circle cx="472.1" cy="210.4" r="3.3"/>
<circle cx="468.6" cy="217.4" r="3.3"/>
<circle cx="478.2" cy="213.7" r="3.3"/>
<circle cx="471.7" cy="216.3" r="3.3"/>
<circle cx="468.3" cy="211.4" r="3.3"/>
<circle cx="454.1" cy="234.0" r="3.3"/>
<circle cx="489.3" cy="193.1" r="3.3"/>
<circle cx="478.0" cy="207.4" r="3.3"/>
<circle cx="466.4" cy="216.7" r="3.3"/>
<circle cx="504.3" cy="178.7" r="3.3"/>
<circle cx="468.9" cy="210.7" r="3.3"/>
<circle cx="500.9" cy="179.7" r="3.3"/>
<circle cx="499.2" cy="183.7" r="3.3"/>
<circle cx="482.9" cy="191.5" r="3.3"/>
<circle cx="488.0" cy="206.5" r="3.3"/>
<circle cx="445.2" cy="248.6" r="3.3"/>
<circle cx="485.6" cy="209.2" r="3.3"/>
<circle cx="481.4" cy="207.9" r="3.3"/>
<circle cx="482.5" cy="199.8" r="3.3"/>
<circle cx="471.0" cy="208.5" r="3.3"/>
<circle cx="449.2" cy="240.5" r="3.3"/>
<circle cx="463.2" cy="219.9" r="3.3"/>
<circle cx="498.5" cy="184.9" r="3.3"/>
<circle cx="443.0" cy="242.2" r="3.3"/>
<circle cx="492.4" cy="202.6" r="3.3"/>
<circle cx="444.5" cy="247.4" r="3.3"/>
<circle cx="432.0" cy="245.2" r="3.3"/>
<circle cx="475.4" cy="208.0" r="3.3"/>
<circle cx="463.7" cy="221.5" r="3.3"/>
<circle cx="480.7" cy="215.1" r="3.3"/>
<circle cx="504.2" cy="180.7" r="3.3"/>
<circle cx="478.4" cy="210.7" r="3.3"/>
<circle cx="488.3" cy="193.4" r="3.3"/>
<circle cx="456.6" cy="226.6" r="3.3"/>
<circle cx="472.9" cy="203.2" r="3.3"/>
<circle cx="485.3" cy="207.9" r="3.3"/>
<circle cx="441.1" cy="242.5" r="3.3"/>
<circle cx="443.3" cy="249.4" r="3.3"/>
<circle cx="452.6" cy="238.2" r="3.3"/>
<circle cx="438.1" cy="246.6" r="3.3"/>
<circle cx="456.0" cy="223.1" r="3.3"/>
<circle cx="437.3" cy="247.0" r="3.3"/>
<circle cx="486.9" cy="213.7" r="3.3"/>
<circle cx="479.3" cy="203.5" r="3.3"/>
<circle cx="452.6" cy="242.7" r="3.3"/>
<circle cx="479.1" cy="199.3" r="3.3"/>
<circle cx="475.4" cy="204.1" r="3.3"/>
<circle cx="492.0" cy="206.4" r="3.3"/>
<circle cx="454.2" cy="239.0" r="3.3"/>
<circle cx="474.9" cy="210.2" r="3.3"/>
<circle cx="486.0" cy="192.3" r="3.3"/>
<circle cx="450.2" cy="230.4" r="3.3"/>
<circle cx="430.3" cy="253.0" r="3.3"/>
<circle cx="454.3" cy="233.2" r="3.3"/>
<circle cx="461.4" cy="219.4" r="3.3"/>
<circle cx="448.5" cy="244.6" r="3.3"/>
<circle cx="472.5" cy="213.8" r="3.3"/>
<circle cx="479.8" cy="199.9" r="3.3"/>
<circle cx="480.5" cy="209.2" r="3.3"/>
<circle cx="455.7" cy="226.6" r="3.3"/>
<circle cx="504.7" cy="181.9" r="3.3"/>
<circle cx="486.8" cy="215.7" r="3.3"/>
<circle cx="481.6" cy="198.0" r="3.3"/>
<circle cx="491.5" cy="196.0" r="3.3"/>
<circle cx="481.2" cy="209.8" r="3.3"/>
<circle cx="479.0" cy="195.5" r="3.3"/>
<circle cx="475.0" cy="200.7" r="3.3"/>
<circle cx="495.7" cy="191.1" r="3.3"/>
<circle cx="450.1" cy="232.6" r="3.3"/>
<circle cx="490.6" cy="192.4" r="3.3"/>
<circle cx="487.8" cy="189.1" r="3.3"/>
<circle cx="448.6" cy="237.8" r="3.3"/>
<circle cx="489.3" cy="203.3" r="3.3"/>
<circle cx="499.2" cy="183.5" r="3.3"/>
<circle cx="452.1" cy="224.9" r="3.3"/>
<circle cx="478.9" cy="209.4" r="3.3"/>
<circle cx="480.7" cy="203.3" r="3.3"/>
<circle cx="484.6" cy="204.0" r="3.3"/>
<circle cx="491.6" cy="191.3" r="3.3"/>
<circle cx="482.0" cy="202.7" r="3.3"/>
<circle cx="463.1" cy="220.0" r="3.3"/>
<circle cx="467.0" cy="219.1" r="3.3"/>
<circle cx="454.8" cy="231.5" r="3.3"/>
<circle cx="437.7" cy="247.3" r="3.3"/>
<circle cx="444.4" cy="238.3" r="3.3"/>
<circle cx="490.0" cy="202.3" r="3.3"/>
<circle cx="475.3" cy="203.8" r="3.3"/>
<circle cx="477.8" cy="210.9" r="3.3"/>
<circle cx="498.6" cy="180.5" r="3.3"/>
<circle cx="436.4" cy="253.0" r="3.3"/>
<circle cx="451.3" cy="237.4" r="3.3"/>
<circle cx="485.6" cy="211.7" r="3.3"/>
<circle cx="502.9" cy="182.5" r="3.3"/>
<circle cx="466.6" cy="217.6" r="3.3"/>
<circle cx="493.3" cy="184.5" r="3.3"/>
<circle cx="480.6" cy="208.8" r="3.3"/>
<circle cx="480.3" cy="202.7" r="3.3"/>
<circle cx="446.5" cy="245.3" r="3.3"/>
<circle cx="487.7" cy="211.5" r="3.3"/>
<circle cx="467.2" cy="216.1" r="3.3"/>
<circle cx="487.1" cy="204.7" r="3.3"/>
<circle cx="498.0" cy="182.0" r="3.3"/>
<circle cx="432.9" cy="245.6" r="3.3"/>
<circle cx="455.7" cy="226.5" r="3.3"/>
<circle cx="479.8" cy="201.4" r="3.3"/>
<circle cx="487.2" cy="203.0" r="3.3"/>
<circle cx="488.1" cy="193.9" r="3.3"/>
<circle cx="492.9" cy="181.8" r="3.3"/>
<circle cx="483.3" cy="190.5" r="3.3"/>
<circle cx="473.5" cy="206.0" r="3.3"/>
<circle cx="500.6" cy="178.9" r="3.3"/>
<circle cx="486.6" cy="203.4" r="3.3"/>
<circle cx="452.3" cy="226.2" r="3.3"/>
<circle cx="487.2" cy="198.2" r="3.3"/>
<circle cx="491.7" cy="210.0" r="3.3"/>
<circle cx="472.9" cy="197.6" r="3.3"/>
<circle cx="479.4" cy="212.2" r="3.3"/>
<circle cx="486.7" cy="192.8" r="3.3"/>
<circle cx="490.6" cy="191.0" r="3.3"/>
<circle cx="461.4" cy="222.9" r="3.3"/>
<circle cx="473.6" cy="216.6" r="3.3"/>
<circle cx="489.5" cy="200.3" r="3.3"/>
<circle cx="491.1" cy="211.1" r="3.3"/>
<circle cx="493.1" cy="186.4" r="3.3"/>
<circle cx="462.2" cy="219.8" r="3.3"/>
<circle cx="478.1" cy="196.6" r="3.3"/>
<circle cx="482.9" cy="207.6" r="3.3"/>
<circle cx="483.4" cy="202.5" r="3.3"/>
<circle cx="470.3" cy="212.5" r="3.3"/>
<circle cx="479.7" cy="198.0" r="3.3"/>
<circle cx="472.8" cy="201.6" r="3.3"/>
<circle cx="478.5" cy="198.5" r="3.3"/>
<circle cx="487.7" cy="205.3" r="3.3"/>
<circle cx="472.2" cy="208.1" r="3.3"/>
<circle cx="447.8" cy="248.5" r="3.3"/>
<circle cx="480.2" cy="195.7" r="3.3"/>
<circle cx="494.0" cy="199.7" r="3.3"/>
<circle cx="480.1" cy="213.3" r="3.3"/>
<circle cx="473.1" cy="196.4" r="3.3"/>
<circle cx="443.1" cy="240.8" r="3.3"/>
<circle cx="496.6" cy="193.0" r="3.3"/>
<circle cx="481.6" cy="195.0" r="3.3"/>
<circle cx="446.9" cy="245.5" r="3.3"/>
<circle cx="471.9" cy="209.0" r="3.3"/>
<circle cx="448.3" cy="233.8" r="3.3"/>
<circle cx="443.0" cy="248.2" r="3.3"/>
<circle cx="478.1" cy="200.2" r="3.3"/>
<circle cx="483.8" cy="193.7" r="3.3"/>
<circle cx="475.0" cy="205.0" r="3.3"/>
<circle cx="467.5" cy="213.9" r="3.3"/>
<circle cx="491.8" cy="187.9" r="3.3"/>
<circle cx="486.1" cy="198.1" r="3.3"/>
<circle cx="472.7" cy="210.7" r="3.3"/>
<circle cx="441.6" cy="248.4" r="3.3"/>
<circle cx="505.0" cy="179.0" r="3.3"/>
<circle cx="498.3" cy="188.2" r="3.3"/>
<circle cx="495.4" cy="192.0" r="3.3"/>
<circle cx="488.8" cy="195.4" r="3.3"/>
<circle cx="487.9" cy="185.6" r="3.3"/>
<circle cx="499.6" cy="183.2" r="3.3"/>
<circle cx="486.8" cy="186.1" r="3.3"/>
<circle cx="448.7" cy="237.7" r="3.3"/>
<circle cx="476.7" cy="199.0" r="3.3"/>
<circle cx="484.2" cy="207.9" r="3.3"/>
<circle cx="439.4" cy="244.0" r="3.3"/>
<circle cx="456.3" cy="230.8" r="3.3"/>
<circle cx="451.6" cy="229.0" r="3.3"/>
<circle cx="484.7" cy="200.7" r="3.3"/>
<circle cx="478.9" cy="195.0" r="3.3"/>
<circle cx="491.3" cy="205.3" r="3.3"/>
<circle cx="446.5" cy="248.7" r="3.3"/>
<circle cx="445.4" cy="246.4" r="3.3"/>
<circle cx="495.1" cy="196.8" r="3.3"/>
<circle cx="449.1" cy="246.5" r="3.3"/>
<circle cx="483.9" cy="206.0" r="3.3"/>
<circle cx="445.6" cy="239.6" r="3.3"/>
<circle cx="484.1" cy="189.2" r="3.3"/>
<circle cx="433.2" cy="253.3" r="3.3"/>
<circle cx="451.6" cy="238.9" r="3.3"/>
<circle cx="467.3" cy="209.8" r="3.3"/>
<circle cx="475.8" cy="215.3" r="3.3"/>
<circle cx="444.1" cy="243.7" r="3.3"/>
<circle cx="497.0" cy="186.1" r="3.3"/>
<circle cx="448.1" cy="242.6" r="3.3"/>
<circle cx="485.6" cy="202.8" r="3.3"/>
<circle cx="473.5" cy="214.4" r="3.3"/>
<circle cx="438.9" cy="248.1" r="3.3"/>
<circle cx="469.3" cy="212.2" r="3.3"/>
<circle cx="490.8" cy="185.1" r="3.3"/>
<circle cx="497.0" cy="187.9" r="3.3"/>
<circle cx="438.2" cy="247.8" r="3.3"/>
<circle cx="490.6" cy="198.9" r="3.3"/>
<circle cx="440.5" cy="243.7" r="3.3"/>
<circle cx="433.5" cy="250.8" r="3.3"/>
<circle cx="457.9" cy="223.6" r="3.3"/>
<circle cx="451.6" cy="239.8" r="3.3"/>
<circle cx="474.5" cy="213.7" r="3.3"/>
<circle cx="482.0" cy="205.3" r="3.3"/>
<circle cx="435.3" cy="244.8" r="3.3"/>
<circle cx="487.6" cy="201.4" r="3.3"/>
<circle cx="489.8" cy="211.0" r="3.3"/>
<circle cx="485.4" cy="196.0" r="3.3"/>
<circle cx="430.1" cy="250.5" r="3.3"/>
<circle cx="443.6" cy="249.1" r="3.3"/>
<circle cx="474.7" cy="195.7" r="3.3"/>
<circle cx="495.8" cy="192.8" r="3.3"/>
<circle cx="498.8" cy="184.9" r="3.3"/>
<circle cx="490.0" cy="185.0" r="3.3"/>
<circle cx="491.0" cy="184.6" r="3.3"/>
<circle cx="476.8" cy="203.4" r="3.3"/>
<circle cx="490.2" cy="194.3" r="3.3"/>
<circle cx="432.3" cy="253.2" r="3.3"/>
<circle cx="485.5" cy="214.1" r="3.3"/>
<circle cx="489.3" cy="210.8" r="3.3"/>
<circle cx="458.6" cy="224.8" r="3.3"/>
<circle cx="453.2" cy="232.7" r="3.3"/>
<circle cx="476.6" cy="213.5" r="3.3"/>
<circle cx="429.5" cy="254.1" r="3.3"/>
<circle cx="463.4" cy="220.1" r="3.3"/>
<circle cx="470.7" cy="216.2" r="3.3"/>
<circle cx="487.8" cy="199.4" r="3.3"/>
<circle cx="467.5" cy="214.4" r="3.3"/>
<circle cx="455.4" cy="234.3" r="3.3"/>
<circle cx="433.4" cy="247.5" r="3.3"/>
<circle cx="471.9" cy="202.0" r="3.3"/>
<circle cx="504.1" cy="181.5" r="3.3"/>
<circle cx="446.4" cy="243.0" r="3.3"/>
<circle cx="449.5" cy="238.5" r="3.3"/>
<circle cx="467.4" cy="219.1" r="3.3"/>
<circle cx="495.1" cy="193.6" r="3.3"/>
<circle cx="480.6" cy="201.2" r="3.3"/>
<circle cx="470.5" cy="207.7" r="3.3"/>
<circle cx="479.8" cy="195.9" r="3.3"/>
<circle cx="493.7" cy="193.9" r="3.3"/>
<circle cx="473.9" cy="196.4" r="3.3"/>
<circle cx="471.7" cy="213.7" r="3.3"/>
<circle cx="489.9" cy="205.8" r="3.3"/>
<circle cx="487.1" cy="208.3" r="3.3"/>
<circle cx="464.1" cy="221.6" r="3.3"/>
<circle cx="498.7" cy="188.9" r="3.3"/>
<circle cx="447.4" cy="237.5" r="3.3"/>
<circle cx="478.7" cy="204.1" r="3.3"/>
<circle cx="452.5" cy="230.2" r="3.3"/>
<circle cx="476.0" cy="209.4" r="3.3"/>
<circle cx="479.4" cy="211.7" r="3.3"/>
<circle cx="478.1" cy="196.0" r="3.3"/>
<circle cx="475.3" cy="199.4" r="3.3"/>
<circle cx="468.7" cy="218.5" r="3.3"/>
<circle cx="433.2" cy="244.9" r="3.3"/>
<circle cx="490.5" cy="210.3" r="3.3"/>
<circle cx="498.3" cy="189.7" r="3.3"/>
<circle cx="486.2" cy="212.8" r="3.3"/>
<circle cx="477.1" cy="211.0" r="3.3"/>
<circle cx="477.6" cy="211.9" r="3.3"/>
<circle cx="465.1" cy="219.9" r="3.3"/>
<circle cx="468.2" cy="209.7" r="3.3"/>
<circle cx="449.9" cy="232.9" r="3.3"/>
<circle cx="465.6" cy="214.1" r="3.3"/>
<circle cx="488.4" cy="203.0" r="3.3"/>
<circle cx="451.8" cy="241.5" r="3.3"/>
<circle cx="436.8" cy="252.6" r="3.3"/>
<circle cx="481.1" cy="214.0" r="3.3"/>
<circle cx="482.9" cy="215.8" r="3.3"/>
<circle cx="489.3" cy="192.3" r="3.3"/>
<circle cx="483.6" cy="189.3" r="3.3"/>
<circle cx="466.2" cy="219.8" r="3.3"/>
<circle cx="427.0" cy="253.2" r="3.3"/>
<circle cx="478.4" cy="208.8" r="3.3"/>
<circle cx="490.9" cy="211.2" r="3.3"/>
<circle cx="477.9" cy="204.1" r="3.3"/>
<circle cx="479.6" cy="209.0" r="3.3"/>
<circle cx="488.8" cy="185.0" r="3.3"/>
<circle cx="468.6" cy="205.6" r="3.3"/>
<circle cx="476.3" cy="210.8" r="3.3"/>
<circle cx="469.5" cy="203.9" r="3.3"/>
<circle cx="457.8" cy="230.2" r="3.3"/>
<circle cx="468.7" cy="211.8" r="3.3"/>
<circle cx="442.0" cy="248.9" r="3.3"/>
<circle cx="475.5" cy="208.7" r="3.3"/>
<circle cx="451.5" cy="244.2" r="3.3"/>
<circle cx="467.5" cy="214.7" r="3.3"/>
<circle cx="500.0" cy="185.8" r="3.3"/>
<circle cx="448.3" cy="246.6" r="3.3"/>
<circle cx="492.6" cy="189.9" r="3.3"/>
<circle cx="434.1" cy="246.7" r="3.3"/>
<circle cx="501.0" cy="178.8" r="3.3"/>
<circle cx="488.2" cy="201.2" r="3.3"/>
<circle cx="494.9" cy="195.3" r="3.3"/>
<circle cx="484.3" cy="197.7" r="3.3"/>
<circle cx="448.0" cy="246.4" r="3.3"/>
<circle cx="443.8" cy="242.3" r="3.3"/>
<circle cx="452.2" cy="243.3" r="3.3"/>
<circle cx="482.5" cy="192.2" r="3.3"/>
<circle cx="480.6" cy="208.4" r="3.3"/>
<circle cx="485.3" cy="191.7" r="3.3"/>
<circle cx="438.3" cy="252.3" r="3.3"/>
<circle cx="476.5" cy="197.8" r="3.3"/>
<circle cx="498.9" cy="186.8" r="3.3"/>
<circle cx="482.8" cy="211.3" r="3.3"/>
<circle cx="471.0" cy="213.4" r="3.3"/>
<circle cx="455.6" cy="224.5" r="3.3"/>
<circle cx="490.3" cy="199.0" r="3.3"/>
<circle cx="504.3" cy="178.8" r="3.3"/>
<circle cx="457.3" cy="227.1" r="3.3"/>
<circle cx="436.9" cy="247.0" r="3.3"/>
<circle cx="487.8" cy="197.9" r="3.3"/>
<circle cx="476.7" cy="203.7" r="3.3"/>
<circle cx="502.6" cy="181.4" r="3.3"/>
<circle cx="455.1" cy="223.3" r="3.3"/>
<circle cx="461.5" cy="225.3" r="3.3"/>
<circle cx="484.1" cy="214.8" r="3.3"/>
<circle cx="450.1" cy="232.2" r="3.3"/>
<circle cx="479.6" cy="211.9" r="3.3"/>
<circle cx="483.7" cy="208.6" r="3.3"/>
<circle cx="487.4" cy="210.3" r="3.3"/>
<circle cx="486.6" cy="211.2" r="3.3"/>
<circle cx="475.9" cy="202.4" r="3.3"/>
<circle cx="454.9" cy="229.6" r="3.3"/>
<circle cx="489.6" cy="183.8" r="3.3"/>
<circle cx="448.5" cy="233.7" r="3.3"/>
<circle cx="444.6" cy="248.3" r="3.3"/>
<circle cx="459.1" cy="227.8" r="3.3"/>
<circle cx="463.0" cy="222.0" r="3.3"/>
<circle cx="450.4" cy="241.3" r="3.3"/>
<circle cx="484.1" cy="189.6" r="3.3"/>
<circle cx="491.3" cy="183.0" r="3.3"/>
<circle cx="470.5" cy="203.4" r="3.3"/>
<circle cx="487.6" cy="207.2" r="3.3"/>
<circle cx="428.4" cy="252.3" r="3.3"/>
<circle cx="486.6" cy="213.5" r="3.3"/>
<circle cx="444.4" cy="249.7" r="3.3"/>
<circle cx="436.0" cy="246.5" r="3.3"/>
<circle cx="483.5" cy="216.1" r="3.3"/>
<circle cx="480.8" cy="208.5" r="3.3"/>
<circle cx="474.9" cy="211.1" r="3.3"/>
<circle cx="439.7" cy="242.3" r="3.3"/>
<circle cx="480.7" cy="191.8" r="3.3"/>
<circle cx="480.2" cy="212.4" r="3.3"/>
<circle cx="439.1" cy="245.1" r="3.3"/>
<circle cx="490.8" cy="205.4" r="3.3"/>
<circle cx="441.4" cy="247.9" r="3.3"/>
<circle cx="468.2" cy="207.4" r="3.3"/>
<circle cx="500.0" cy="180.2" r="3.3"/>
<circle cx="440.9" cy="241.6" r="3.3"/>
<circle cx="486.7" cy="211.9" r="3.3"/>
<circle cx="462.8" cy="220.4" r="3.3"/>
<circle cx="451.5" cy="236.3" r="3.3"/>
<circle cx="475.8" cy="197.7" r="3.3"/>
<circle cx="438.0" cy="249.8" r="3.3"/>
<circle cx="451.9" cy="241.8" r="3.3"/>
<circle cx="475.6" cy="203.2" r="3.3"/>
<circle cx="451.9" cy="235.0" r="3.3"/>
<circle cx="451.2" cy="232.1" r="3.3"/>
<circle cx="489.3" cy="198.3" r="3.3"/>
<circle cx="462.4" cy="220.5" r="3.3"/>
<circle cx="429.9" cy="252.4" r="3.3"/>
<circle cx="432.4" cy="246.4" r="3.3"/>
<circle cx="438.4" cy="251.4" r="3.3"/>
<circle cx="468.1" cy="206.5" r="3.3"/>
<circle cx="480.6" cy="217.1" r="3.3"/>
<circle cx="464.1" cy="218.7" r="3.3"/>
<circle cx="484.2" cy="209.9" r="3.3"/>
<circle cx="446.0" cy="244.3" r="3.3"/>
<circle cx="491.6" cy="182.6" r="3.3"/>
<circle cx="473.6" cy="206.9" r="3.3"/>
<circle cx="484.8" cy="204.0" r="3.3"/>
<circle cx="470.3" cy="205.8" r="3.3"/>
<circle cx="476.7" cy="196.6" r="3.3"/>
<circle cx="446.5" cy="248.2" r="3.3"/>
<circle cx="465.3" cy="217.5" r="3.3"/>
<circle cx="506.1" cy="180.7" r="3.3"/>
<circle cx="497.7" cy="180.1" r="3.3"/>
<circle cx="486.8" cy="214.0" r="3.3"/>
<circle cx="451.5" cy="243.3" r="3.3"/>
<circle cx="482.3" cy="201.7" r="3.3"/>
<circle cx="451.8" cy="229.7" r="3.3"/>
<circle cx="494.3" cy="204.8" r="3.3"/>
<circle cx="492.6" cy="182.3" r="3.3"/>
<circle cx="445.3" cy="251.1" r="3.3"/>
<circle cx="488.0" cy="204.4" r="3.3"/>
<circle cx="496.4" cy="188.1" r="3.3"/>
<circle cx="470.0" cy="206.0" r="3.3"/>
<circle cx="479.4" cy="214.3" r="3.3"/>
<circle cx="491.2" cy="195.4" r="3.3"/>
<circle cx="496.1" cy="189.7" r="3.3"/>
<circle cx="451.5" cy="232.9" r="3.3"/>
<circle cx="482.0" cy="202.0" r="3.3"/>
<circle cx="473.3" cy="203.9" r="3.3"/>
<circle cx="490.3" cy="199.6" r="3.3"/>
<circle cx="465.0" cy="220.4" r="3.3"/>
<circle cx="484.7" cy="198.4" r="3.3"/>
<circle cx="493.9" cy="181.6" r="3.3"/>
<circle cx="506.8" cy="179.9" r="3.3"/>
<circle cx="452.9" cy="236.4" r="3.3"/>
<circle cx="482.7" cy="209.3" r="3.3"/>
<circle cx="475.9" cy="209.4" r="3.3"/>
<circle cx="449.8" cy="237.4" r="3.3"/>
<circle cx="494.6" cy="181.6" r="3.3"/>
<circle cx="496.1" cy="183.4" r="3.3"/>
<circle cx="432.0" cy="245.4" r="3.3"/>
<circle cx="472.1" cy="217.3" r="3.3"/>
<circle cx="490.4" cy="200.1" r="3.3"/>
<circle cx="492.1" cy="200.6" r="3.3"/>
<circle cx="476.9" cy="215.3" r="3.3"/>
<circle cx="462.9" cy="219.7" r="3.3"/>
<circle cx="477.0" cy="225.2" r="3.3"/>
<circle cx="463.2" cy="239.8" r="3.3"/>
<circle cx="516.8" cy="169.6" r="3.3"/>
<circle cx="413.2" cy="249.0" r="3.3"/>
<circle cx="423.5" cy="262.7" r="3.3"/>
<circle cx="523.6" cy="172.1" r="3.3"/>
<circle cx="443.0" cy="222.8" r="3.3"/>
<circle cx="443.1" cy="219.5" r="3.3"/>
<circle cx="457.9" cy="210.8" r="3.3"/>
<circle cx="489.2" cy="176.1" r="3.3"/>
<circle cx="413.9" cy="258.9" r="3.3"/>
<circle cx="457.4" cy="247.7" r="3.3"/>
<circle cx="450.3" cy="256.3" r="3.3"/>
<circle cx="481.9" cy="176.9" r="3.3"/>
<circle cx="471.6" cy="185.1" r="3.3"/>
<circle cx="525.4" cy="170.1" r="3.3"/>
<circle cx="458.2" cy="248.0" r="3.3"/>
<circle cx="480.7" cy="225.5" r="3.3"/>
<circle cx="428.9" cy="267.3" r="3.3"/>
<circle cx="417.4" cy="267.8" r="3.3"/>
<circle cx="423.0" cy="270.9" r="3.3"/>
<circle cx="424.0" cy="265.4" r="3.3"/>
<circle cx="422.6" cy="272.0" r="3.3"/>
<circle cx="427.6" cy="270.8" r="3.3"/>
<circle cx="418.1" cy="269.1" r="3.3"/>
<circle cx="413.6" cy="272.7" r="3.3"/>
<circle cx="421.0" cy="267.8" r="3.3"/>
<circle cx="428.7" cy="266.6" r="3.3"/>
<circle cx="429.2" cy="268.5" r="3.3"/>
<circle cx="420.8" cy="264.8" r="3.3"/>
<circle cx="424.0" cy="272.4" r="3.3"/>
<circle cx="424.8" cy="271.2" r="3.3"/>
<circle cx="427.2" cy="267.3" r="3.3"/>
<circle cx="416.1" cy="266.4" r="3.3"/>
<circle cx="417.7" cy="269.5" r="3.3"/>
<circle cx="414.0" cy="267.5" r="3.3"/>
<circle cx="415.4" cy="271.8" r="3.3"/>
<circle cx="422.8" cy="266.4" r="3.3"/>
<circle cx="417.2" cy="266.3" r="3.3"/>
<circle cx="422.7" cy="268.1" r="3.3"/>
<circle cx="417.8" cy="266.0" r="3.3"/>
<circle cx="415.0" cy="271.2" r="3.3"/>
<circle cx="422.8" cy="271.7" r="3.3"/>
<circle cx="420.3" cy="271.8" r="3.3"/>
<circle cx="419.3" cy="270.3" r="3.3"/>
<circle cx="425.4" cy="265.2" r="3.3"/>
<circle cx="426.1" cy="271.7" r="3.3"/>
<circle cx="427.7" cy="267.0" r="3.3"/>
<circle cx="424.5" cy="269.6" r="3.3"/>
<circle cx="420.0" cy="270.9" r="3.3"/>
<circle cx="422.4" cy="271.1" r="3.3"/>
<circle cx="415.6" cy="266.2" r="3.3"/>
<circle cx="428.0" cy="269.0" r="3.3"/>
<circle cx="420.9" cy="268.8" r="3.3"/>
<circle cx="428.0" cy="268.0" r="3.3"/>
<circle cx="416.6" cy="271.0" r="3.3"/>
<circle cx="427.9" cy="271.1" r="3.3"/>
<circle cx="415.9" cy="272.2" r="3.3"/>
<circle cx="425.0" cy="268.6" r="3.3"/>
<circle cx="414.8" cy="270.4" r="3.3"/>
<circle cx="415.5" cy="273.1" r="3.3"/>
<circle cx="423.5" cy="265.4" r="3.3"/>
<circle cx="419.4" cy="272.6" r="3.3"/>
<circle cx="418.1" cy="273.0" r="3.3"/>
<circle cx="421.0" cy="266.4" r="3.3"/>
<circle cx="423.5" cy="265.2" r="3.3"/>
<circle cx="425.0" cy="271.6" r="3.3"/>
<circle cx="426.7" cy="271.7" r="3.3"/>
<circle cx="417.6" cy="265.8" r="3.3"/>
<circle cx="420.1" cy="268.1" r="3.3"/>
<circle cx="419.3" cy="272.3" r="3.3"/>
<circle cx="413.4" cy="272.7" r="3.3"/>
<circle cx="413.1" cy="267.3" r="3.3"/>
<circle cx="419.2" cy="273.0" r="3.3"/>
<circle cx="422.8" cy="269.0" r="3.3"/>
<circle cx="418.8" cy="272.3" r="3.3"/>
<circle cx="424.7" cy="271.9" r="3.3"/>
<circle cx="424.7" cy="268.5" r="3.3"/>
<circle cx="440.0" cy="274.6" r="3.3"/>
<circle cx="445.0" cy="274.6" r="3.3"/>
<circle cx="450.0" cy="274.6" r="3.3"/>
<circle cx="455.0" cy="274.6" r="3.3"/>
<circle cx="460.0" cy="274.6" r="3.3"/>
<circle cx="464.0" cy="274.6" r="3.3"/>
<circle cx="410.3" cy="201.6" r="3.3"/>
<circle cx="435.9" cy="229.4" r="3.3"/>
<circle cx="434.4" cy="208.1" r="3.3"/>
<circle cx="442.1" cy="207.1" r="3.3"/>
<circle cx="452.5" cy="208.1" r="3.3"/>
<circle cx="459.7" cy="208.1" r="3.3"/>
<circle cx="453.5" cy="195.3" r="3.3"/>
<circle cx="457.5" cy="196.0" r="3.3"/>
<circle cx="472.1" cy="181.4" r="3.3"/>
<circle cx="466.6" cy="240.6" r="3.3"/>
<circle cx="504.2" cy="216.6" r="3.3"/>
<circle cx="506.3" cy="208.3" r="3.3"/>
<circle cx="515.0" cy="181.9" r="3.3"/>
<circle cx="539.1" cy="180.1" r="3.3"/>
<circle cx="546.6" cy="201.6" r="3.3"/>
<circle cx="530.8" cy="207.7" r="3.3"/>
<circle cx="429.5" cy="196.8" r="3.3"/>
<circle cx="544.5" cy="140.4" r="3.3"/>
<circle cx="535.5" cy="139.9" r="3.3"/>
<circle cx="553.5" cy="137.8" r="3.3"/>
<circle cx="547.5" cy="138.6" r="3.3"/>
<circle cx="542.0" cy="138.6" r="3.3"/>
<circle cx="544.6" cy="137.4" r="3.3"/>
<circle cx="543.6" cy="139.5" r="3.3"/>
<circle cx="549.7" cy="138.7" r="3.3"/>
<circle cx="542.8" cy="137.6" r="3.3"/>
<circle cx="554.6" cy="138.4" r="3.3"/>
<circle cx="545.0" cy="138.0" r="3.3"/>
<circle cx="553.2" cy="139.8" r="3.3"/>
<circle cx="544.6" cy="138.1" r="3.3"/>
<circle cx="552.0" cy="138.1" r="3.3"/>
<circle cx="540.0" cy="138.3" r="3.3"/>
<circle cx="551.1" cy="140.6" r="3.3"/>
<circle cx="539.5" cy="138.1" r="3.3"/>
<circle cx="544.4" cy="138.6" r="3.3"/>
<circle cx="553.4" cy="140.3" r="3.3"/>
<circle cx="538.2" cy="139.5" r="3.3"/>
<circle cx="552.5" cy="141.1" r="3.3"/>
<circle cx="540.5" cy="139.9" r="3.3"/>
<circle cx="556.5" cy="137.8" r="3.3"/>
<circle cx="542.6" cy="141.1" r="3.3"/>
<circle cx="557.2" cy="138.6" r="3.3"/>
<circle cx="549.5" cy="140.3" r="3.3"/>
<circle cx="541.5" cy="138.7" r="3.3"/>
<circle cx="545.7" cy="138.2" r="3.3"/>
<circle cx="548.1" cy="140.7" r="3.3"/>
<circle cx="546.1" cy="137.9" r="3.3"/>
<circle cx="536.5" cy="138.5" r="3.3"/>
<circle cx="560.0" cy="140.5" r="3.3"/>
<circle cx="604.3" cy="54.6" r="3.3"/>
<circle cx="606.3" cy="53.3" r="3.3"/>
<circle cx="610.3" cy="56.0" r="3.3"/>
<circle cx="671.0" cy="52.0" r="3.3"/>
<circle cx="619.4" cy="58.2" r="3.3"/>
<circle cx="631.4" cy="56.2" r="3.3"/>
<circle cx="645.7" cy="53.8" r="3.3"/>
<circle cx="619.6" cy="57.9" r="3.3"/>
<circle cx="655.6" cy="52.3" r="3.3"/>
<circle cx="628.6" cy="56.0" r="3.3"/>
<circle cx="650.0" cy="54.3" r="3.3"/>
<circle cx="637.6" cy="58.3" r="3.3"/>
<circle cx="636.0" cy="57.4" r="3.3"/>
<circle cx="630.1" cy="55.2" r="3.3"/>
<circle cx="622.0" cy="55.1" r="3.3"/>
<circle cx="632.7" cy="55.8" r="3.3"/>
<circle cx="627.3" cy="55.1" r="3.3"/>
<circle cx="648.7" cy="54.6" r="3.3"/>
<circle cx="640.2" cy="56.0" r="3.3"/>
<circle cx="636.3" cy="58.9" r="3.3"/>
<circle cx="650.0" cy="52.5" r="3.3"/>
<circle cx="629.1" cy="58.7" r="3.3"/>
<circle cx="647.3" cy="56.3" r="3.3"/>
<circle cx="645.9" cy="56.6" r="3.3"/>
<circle cx="629.3" cy="57.7" r="3.3"/>
<circle cx="629.3" cy="56.6" r="3.3"/>
<circle cx="628.6" cy="56.4" r="3.3"/>
<circle cx="620.6" cy="57.6" r="3.3"/>
<circle cx="642.0" cy="54.9" r="3.3"/>
<circle cx="632.3" cy="57.3" r="3.3"/>
<circle cx="647.5" cy="58.7" r="3.3"/>
<circle cx="648.6" cy="52.8" r="3.3"/>
<circle cx="641.0" cy="57.9" r="3.3"/>
<circle cx="644.6" cy="53.3" r="3.3"/>
<circle cx="623.5" cy="55.5" r="3.3"/>
<circle cx="655.0" cy="53.4" r="3.3"/>
<circle cx="628.9" cy="55.5" r="3.3"/>
<circle cx="640.4" cy="53.3" r="3.3"/>
<circle cx="637.4" cy="54.3" r="3.3"/>
<circle cx="627.2" cy="57.3" r="3.3"/>
<circle cx="637.2" cy="53.1" r="3.3"/>
<circle cx="637.1" cy="55.8" r="3.3"/>
<circle cx="621.8" cy="59.0" r="3.3"/>
<circle cx="629.7" cy="56.0" r="3.3"/>
<circle cx="624.3" cy="57.4" r="3.3"/>
<circle cx="621.0" cy="56.3" r="3.3"/>
<circle cx="636.1" cy="58.8" r="3.3"/>
<circle cx="654.2" cy="54.0" r="3.3"/>
<circle cx="628.6" cy="52.7" r="3.3"/>
<circle cx="637.9" cy="53.5" r="3.3"/>
<circle cx="652.6" cy="54.9" r="3.3"/>
<circle cx="638.9" cy="54.6" r="3.3"/>
<circle cx="636.8" cy="52.9" r="3.3"/>
<circle cx="633.7" cy="53.3" r="3.3"/>
<circle cx="640.3" cy="58.7" r="3.3"/>
<circle cx="628.6" cy="58.1" r="3.3"/>
<circle cx="620.3" cy="54.9" r="3.3"/>
<circle cx="650.3" cy="54.7" r="3.3"/>
<circle cx="639.1" cy="52.7" r="3.3"/>
<circle cx="629.8" cy="56.6" r="3.3"/>
<circle cx="628.2" cy="53.4" r="3.3"/>
<circle cx="646.5" cy="53.4" r="3.3"/>
<circle cx="623.8" cy="55.4" r="3.3"/>
<circle cx="641.5" cy="56.0" r="3.3"/>
<circle cx="623.7" cy="53.4" r="3.3"/>
<circle cx="646.7" cy="53.6" r="3.3"/>
<circle cx="637.6" cy="57.9" r="3.3"/>
<circle cx="646.1" cy="58.9" r="3.3"/>
<circle cx="626.4" cy="56.3" r="3.3"/>
<circle cx="636.1" cy="55.6" r="3.3"/>
<circle cx="640.8" cy="55.1" r="3.3"/>
<circle cx="641.4" cy="58.3" r="3.3"/>
<circle cx="646.6" cy="54.3" r="3.3"/>
<circle cx="639.6" cy="58.0" r="3.3"/>
<circle cx="599.7" cy="68.6" r="3.3"/>
<circle cx="603.7" cy="73.3" r="3.3"/>
<circle cx="644.2" cy="67.3" r="3.3"/>
<circle cx="621.2" cy="71.1" r="3.3"/>
<circle cx="614.7" cy="73.4" r="3.3"/>
<circle cx="615.1" cy="71.8" r="3.3"/>
<circle cx="615.0" cy="72.0" r="3.3"/>
<circle cx="610.1" cy="70.1" r="3.3"/>
<circle cx="630.5" cy="70.0" r="3.3"/>
<circle cx="617.5" cy="70.2" r="3.3"/>
<circle cx="631.8" cy="73.6" r="3.3"/>
<circle cx="610.5" cy="69.4" r="3.3"/>
<circle cx="628.5" cy="72.8" r="3.3"/>
<circle cx="614.6" cy="69.6" r="3.3"/>
<circle cx="631.4" cy="68.6" r="3.3"/>
<circle cx="621.6" cy="72.6" r="3.3"/>
<circle cx="614.5" cy="72.9" r="3.3"/>
<circle cx="620.3" cy="68.1" r="3.3"/>
<circle cx="623.1" cy="67.7" r="3.3"/>
<circle cx="623.2" cy="72.6" r="3.3"/>
<circle cx="613.2" cy="72.4" r="3.3"/>
<circle cx="626.2" cy="68.9" r="3.3"/>
<circle cx="613.1" cy="68.3" r="3.3"/>
<circle cx="619.8" cy="68.0" r="3.3"/>
<circle cx="622.7" cy="68.5" r="3.3"/>
<circle cx="624.1" cy="67.9" r="3.3"/>
<circle cx="614.6" cy="72.9" r="3.3"/>
<circle cx="611.7" cy="71.9" r="3.3"/>
<circle cx="619.6" cy="69.6" r="3.3"/>
<circle cx="618.2" cy="70.6" r="3.3"/>
<circle cx="613.1" cy="72.3" r="3.3"/>
<circle cx="624.9" cy="71.4" r="3.3"/>
<circle cx="621.3" cy="73.5" r="3.3"/>
<circle cx="630.5" cy="71.5" r="3.3"/>
<circle cx="614.8" cy="67.7" r="3.3"/>
<circle cx="615.4" cy="67.8" r="3.3"/>
<circle cx="621.8" cy="73.0" r="3.3"/>
<circle cx="629.1" cy="68.8" r="3.3"/>
<circle cx="628.1" cy="69.4" r="3.3"/>
<circle cx="626.5" cy="73.0" r="3.3"/>
<circle cx="618.0" cy="68.6" r="3.3"/>
<circle cx="622.3" cy="73.0" r="3.3"/>
<circle cx="611.6" cy="69.6" r="3.3"/>
<circle cx="617.1" cy="70.7" r="3.3"/>
<circle cx="618.7" cy="73.1" r="3.3"/>
<circle cx="623.5" cy="73.2" r="3.3"/>
<circle cx="609.3" cy="73.0" r="3.3"/>
<circle cx="623.7" cy="70.6" r="3.3"/>
</g>
<line x1="410.3" y1="274.4" x2="683.3" y2="11.6" stroke="#ff0000" stroke-width="3.1"/>
<line x1="410.3" y1="274.8" x2="683.3" y2="2.4" stroke="#000" stroke-width="3.2"/>
</g>
<rect x="417.6" y="9.8" width="177.1" height="70.5" rx="3" ry="3" fill="#fff" fill-opacity="0.8" stroke="#d2d2d2" stroke-width="1.5"/>
<circle cx="438.9" cy="23.2" r="3.3" fill="#27a694"/>
<line x1="422.1" y1="44.3" x2="455.3" y2="44.3" stroke="#ff0000" stroke-width="3.0"/>
<line x1="422.1" y1="66.4" x2="455.3" y2="66.4" stroke="#000" stroke-width="3.0"/>
<text transform="translate(465.03,27.60) scale(1.268,1)" font-size="14.6">FB</text>
<text transform="translate(493.57,27.60) scale(1.254,1)" font-size="14.6">(MAE:</text>
<text transform="translate(549.66,27.60) scale(1.230,1)" font-size="14.6">0.10)</text>
<text transform="translate(465.04,49.60) scale(1.230,1)" font-size="14.6">reg</text>
<text transform="translate(493.96,49.60) scale(1.266,1)" font-size="14.6">(R</text>
<text transform="translate(513.04,49.60) scale(1.507,1)" font-size="14.6" font-weight="bold">²</text>
<text transform="translate(520.27,49.60) scale(1.106,1)" font-size="14.6">:</text>
<text transform="translate(532.17,49.60) scale(1.213,1)" font-size="14.6">0.98)</text>
<text transform="translate(464.84,71.60) scale(1.282,1)" font-size="14.6">opt</text>
<rect x="410.3" y="2.4" width="273.0" height="272.4" fill="none" stroke="#000" stroke-width="1.7"/>
<line x1="410.3" y1="274.8" x2="410.3" y2="281.8" stroke="#000" stroke-width="1.6"/>
<text transform="translate(396.95,303.10) scale(0.935,1)" font-size="21.3">0.0</text>
<line x1="490.5" y1="274.8" x2="490.5" y2="281.8" stroke="#000" stroke-width="1.6"/>
<text transform="translate(476.95,303.10) scale(0.943,1)" font-size="21.3">2.5</text>
<line x1="570.7" y1="274.8" x2="570.7" y2="281.8" stroke="#000" stroke-width="1.6"/>
<text transform="translate(556.94,303.10) scale(0.951,1)" font-size="21.3">5.0</text>
<line x1="650.9" y1="274.8" x2="650.9" y2="281.8" stroke="#000" stroke-width="1.6"/>
<text transform="translate(636.92,303.10) scale(0.959,1)" font-size="21.3">7.5</text>
<line x1="410.3" y1="274.8" x2="403.3" y2="274.8" stroke="#000" stroke-width="1.6"/>
<text font-size="21.3" x="396.0" y="282.2" text-anchor="end">0</text>
<line x1="410.3" y1="210.7" x2="403.3" y2="210.7" stroke="#000" stroke-width="1.6"/>
<text font-size="21.3" x="396.0" y="218.1" text-anchor="end">2</text>
<line x1="410.3" y1="146.5" x2="403.3" y2="146.5" stroke="#000" stroke-width="1.6"/>
<text font-size="21.3" x="396.0" y="153.9" text-anchor="end">4</text>
<line x1="410.3" y1="82.4" x2="403.3" y2="82.4" stroke="#000" stroke-width="1.6"/>
<text font-size="21.3" x="396.0" y="89.8" text-anchor="end">6</text>
<line x1="410.3" y1="18.3" x2="403.3" y2="18.3" stroke="#000" stroke-width="1.6"/>
<text font-size="21.3" x="396.0" y="25.7" text-anchor="end">8</text>
<text transform="translate(445.47,331.60) scale(1.003,1)" font-size="21.3">real</text>
<text transform="translate(484.38,331.60) scale(0.984,1)" font-size="21.3">image</text>
<text transform="translate(541.53,331.60) scale(1.049,1)" font-size="21.3">est.</text>
<path d="M586.10,316.40 H583.45 V336.00 H586.10" fill="none" stroke="#000" stroke-width="1.1"/>
<text transform="translate(586.70,331.60) scale(1.157,1)" font-size="21.3">t</text>
<text transform="translate(599.50,331.60) scale(0.984,1)" font-size="21.3">ha</text>
<text transform="translate(620.41,324.80) scale(1.328,1)" font-size="14.9">−</text>
<text transform="translate(633.48,324.80) scale(0.858,1)" font-size="14.9">1</text>
<path d="M641.90,316.40 H644.45 V336.00 H641.90" fill="none" stroke="#000" stroke-width="1.1"/>
<g transform="translate(373.6,258.2) rotate(-90)">
<text transform="translate(-0.21,0.00) scale(0.965,1)" font-size="21.3">process-based</text>
<text transform="translate(122.98,0.00) scale(1.029,1)" font-size="21.3">pred.</text>
<path d="M180.77,-15.20 H178.15 V4.40 H180.77" fill="none" stroke="#000" stroke-width="1.1"/>
<text transform="translate(181.36,0.00) scale(1.145,1)" font-size="21.3">t</text>
<text transform="translate(194.03,0.00) scale(0.974,1)" font-size="21.3">ha</text>
<text transform="translate(214.73,-6.80) scale(1.315,1)" font-size="14.9">−</text>
<text transform="translate(227.67,-6.80) scale(0.849,1)" font-size="14.9">1</text>
<path d="M236.01,-15.20 H238.53 V4.40 H236.01" fill="none" stroke="#000" stroke-width="1.1"/>
</g>
</svg></body></html>
